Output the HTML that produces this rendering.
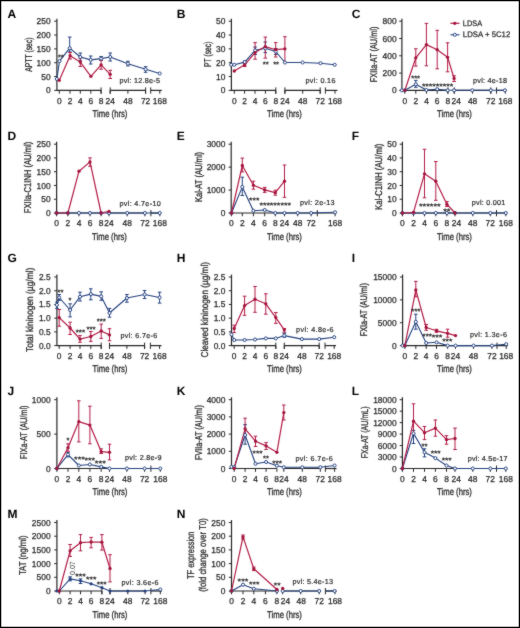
<!DOCTYPE html>
<html><head><meta charset="utf-8"><title>Figure</title>
<style>
html,body{margin:0;padding:0;background:#fff;}
body{width:520px;height:628px;overflow:hidden;}
svg{display:block;font-family:"Liberation Sans", sans-serif;}
text{stroke:#2a2a2a;stroke-width:0.25px;}
</style></head>
<body>
<div style="will-change:transform;width:520px;height:628px;">
<svg width="520" height="628" viewBox="0 0 520 628" fill="#2a2a2a" text-rendering="geometricPrecision">
<defs><filter id="soft" filterUnits="userSpaceOnUse" x="0" y="0" width="520" height="628" color-interpolation-filters="sRGB"><feConvolveMatrix order="3" kernelMatrix="1 2 1 2 24 2 1 2 1" divisor="36" edgeMode="duplicate"/></filter></defs>
<g filter="url(#soft)">
<rect x="0" y="0" width="520" height="628" fill="#fff"/>
<g id="pA">
<text x="7.5" y="17.75" font-size="12" fill="#000" font-weight="bold" style="stroke:none">A</text>
<line x1="54.2" y1="90.4" x2="56.9" y2="90.4" stroke="#262626" stroke-width="1"/>
<text x="50.6" y="93.45" font-size="8.6" text-anchor="end" textLength="4.69" lengthAdjust="spacingAndGlyphs">0</text>
<line x1="54.2" y1="76.56" x2="56.9" y2="76.56" stroke="#262626" stroke-width="1"/>
<text x="50.6" y="79.61" font-size="8.6" text-anchor="end" textLength="9.37" lengthAdjust="spacingAndGlyphs">50</text>
<line x1="54.2" y1="62.72" x2="56.9" y2="62.72" stroke="#262626" stroke-width="1"/>
<text x="50.6" y="65.77" font-size="8.6" text-anchor="end" textLength="14.06" lengthAdjust="spacingAndGlyphs">100</text>
<line x1="54.2" y1="48.88" x2="56.9" y2="48.88" stroke="#262626" stroke-width="1"/>
<text x="50.6" y="51.93" font-size="8.6" text-anchor="end" textLength="14.06" lengthAdjust="spacingAndGlyphs">150</text>
<line x1="54.2" y1="35.04" x2="56.9" y2="35.04" stroke="#262626" stroke-width="1"/>
<text x="50.6" y="38.09" font-size="8.6" text-anchor="end" textLength="14.06" lengthAdjust="spacingAndGlyphs">200</text>
<line x1="54.2" y1="21.2" x2="56.9" y2="21.2" stroke="#262626" stroke-width="1"/>
<text x="50.6" y="24.25" font-size="8.6" text-anchor="end" textLength="14.06" lengthAdjust="spacingAndGlyphs">250</text>
<line x1="56.9" y1="18.8" x2="56.9" y2="90.9" stroke="#262626" stroke-width="1.2"/>
<line x1="56.9" y1="90.4" x2="101.1" y2="90.4" stroke="#262626" stroke-width="1.2"/>
<line x1="110.2" y1="90.4" x2="145.6" y2="90.4" stroke="#262626" stroke-width="1.2"/>
<line x1="150.7" y1="90.4" x2="161.8" y2="90.4" stroke="#262626" stroke-width="1.2"/>
<line x1="101.1" y1="87.4" x2="101.1" y2="93.7" stroke="#262626" stroke-width="1"/>
<line x1="110.2" y1="87.4" x2="110.2" y2="93.7" stroke="#262626" stroke-width="1"/>
<line x1="145.6" y1="87.4" x2="145.6" y2="93.7" stroke="#262626" stroke-width="1"/>
<line x1="150.7" y1="87.4" x2="150.7" y2="93.7" stroke="#262626" stroke-width="1"/>
<line x1="59.3" y1="90.4" x2="59.3" y2="93.7" stroke="#262626" stroke-width="1"/>
<line x1="70" y1="90.4" x2="70" y2="93.7" stroke="#262626" stroke-width="1"/>
<line x1="80.3" y1="90.4" x2="80.3" y2="93.7" stroke="#262626" stroke-width="1"/>
<line x1="90.8" y1="90.4" x2="90.8" y2="93.7" stroke="#262626" stroke-width="1"/>
<line x1="101.1" y1="90.4" x2="101.1" y2="93.7" stroke="#262626" stroke-width="1"/>
<line x1="110.2" y1="90.4" x2="110.2" y2="93.7" stroke="#262626" stroke-width="1"/>
<line x1="127.9" y1="90.4" x2="127.9" y2="93.7" stroke="#262626" stroke-width="1"/>
<line x1="145.6" y1="90.4" x2="145.6" y2="93.7" stroke="#262626" stroke-width="1"/>
<line x1="159.8" y1="90.4" x2="159.8" y2="93.7" stroke="#262626" stroke-width="1"/>
<text x="59.3" y="103.8" font-size="8.6" text-anchor="middle" textLength="4.69" lengthAdjust="spacingAndGlyphs">0</text>
<text x="70" y="103.8" font-size="8.6" text-anchor="middle" textLength="4.69" lengthAdjust="spacingAndGlyphs">2</text>
<text x="80.3" y="103.8" font-size="8.6" text-anchor="middle" textLength="4.69" lengthAdjust="spacingAndGlyphs">4</text>
<text x="90.8" y="103.8" font-size="8.6" text-anchor="middle" textLength="4.69" lengthAdjust="spacingAndGlyphs">6</text>
<text x="101.1" y="103.8" font-size="8.6" text-anchor="middle" textLength="4.69" lengthAdjust="spacingAndGlyphs">8</text>
<text x="110.2" y="103.8" font-size="8.6" text-anchor="middle" textLength="9.37" lengthAdjust="spacingAndGlyphs">24</text>
<text x="127.9" y="103.8" font-size="8.6" text-anchor="middle" textLength="9.37" lengthAdjust="spacingAndGlyphs">48</text>
<text x="145.6" y="103.8" font-size="8.6" text-anchor="middle" textLength="9.37" lengthAdjust="spacingAndGlyphs">72</text>
<text x="159.8" y="103.8" font-size="8.6" text-anchor="middle" textLength="14.06" lengthAdjust="spacingAndGlyphs">168</text>
<text x="110" y="117.2" font-size="9.8" text-anchor="middle" textLength="34.8" lengthAdjust="spacingAndGlyphs" style="stroke-width:0.3px">Time (hrs)</text>
<text x="31.52" y="54.6" font-size="9.9" text-anchor="middle" textLength="34.4" lengthAdjust="spacingAndGlyphs" transform="rotate(-90 31.52 54.6)" style="stroke-width:0.3px">APTT (sec)</text>
<line x1="69.7" y1="37.1" x2="69.7" y2="52" stroke="#24417f" stroke-width="1"/>
<line x1="67.9" y1="37.1" x2="71.5" y2="37.1" stroke="#24417f" stroke-width="1"/>
<line x1="67.9" y1="52" x2="71.5" y2="52" stroke="#24417f" stroke-width="1"/>
<line x1="80.3" y1="53" x2="80.3" y2="60.8" stroke="#24417f" stroke-width="1"/>
<line x1="78.5" y1="53" x2="82.1" y2="53" stroke="#24417f" stroke-width="1"/>
<line x1="78.5" y1="60.8" x2="82.1" y2="60.8" stroke="#24417f" stroke-width="1"/>
<line x1="90.7" y1="56" x2="90.7" y2="64" stroke="#24417f" stroke-width="1"/>
<line x1="88.9" y1="56" x2="92.5" y2="56" stroke="#24417f" stroke-width="1"/>
<line x1="88.9" y1="64" x2="92.5" y2="64" stroke="#24417f" stroke-width="1"/>
<line x1="101.1" y1="56.5" x2="101.1" y2="60.5" stroke="#24417f" stroke-width="1"/>
<line x1="99.3" y1="56.5" x2="102.9" y2="56.5" stroke="#24417f" stroke-width="1"/>
<line x1="99.3" y1="60.5" x2="102.9" y2="60.5" stroke="#24417f" stroke-width="1"/>
<line x1="110.2" y1="53" x2="110.2" y2="61" stroke="#24417f" stroke-width="1"/>
<line x1="108.4" y1="53" x2="112" y2="53" stroke="#24417f" stroke-width="1"/>
<line x1="108.4" y1="61" x2="112" y2="61" stroke="#24417f" stroke-width="1"/>
<line x1="127.9" y1="61.3" x2="127.9" y2="65.9" stroke="#24417f" stroke-width="1"/>
<line x1="126.1" y1="61.3" x2="129.7" y2="61.3" stroke="#24417f" stroke-width="1"/>
<line x1="126.1" y1="65.9" x2="129.7" y2="65.9" stroke="#24417f" stroke-width="1"/>
<line x1="145.6" y1="66.7" x2="145.6" y2="72.3" stroke="#24417f" stroke-width="1"/>
<line x1="143.8" y1="66.7" x2="147.4" y2="66.7" stroke="#24417f" stroke-width="1"/>
<line x1="143.8" y1="72.3" x2="147.4" y2="72.3" stroke="#24417f" stroke-width="1"/>
<line x1="70.1" y1="52.5" x2="70.1" y2="59" stroke="#b31c47" stroke-width="1"/>
<line x1="68.3" y1="52.5" x2="71.9" y2="52.5" stroke="#b31c47" stroke-width="1"/>
<line x1="68.3" y1="59" x2="71.9" y2="59" stroke="#b31c47" stroke-width="1"/>
<line x1="80.3" y1="58.1" x2="80.3" y2="66.5" stroke="#b31c47" stroke-width="1"/>
<line x1="78.5" y1="58.1" x2="82.1" y2="58.1" stroke="#b31c47" stroke-width="1"/>
<line x1="78.5" y1="66.5" x2="82.1" y2="66.5" stroke="#b31c47" stroke-width="1"/>
<line x1="101.1" y1="60.3" x2="101.1" y2="69.2" stroke="#b31c47" stroke-width="1"/>
<line x1="99.3" y1="60.3" x2="102.9" y2="60.3" stroke="#b31c47" stroke-width="1"/>
<line x1="99.3" y1="69.2" x2="102.9" y2="69.2" stroke="#b31c47" stroke-width="1"/>
<line x1="110.2" y1="70.3" x2="110.2" y2="78.5" stroke="#b31c47" stroke-width="1"/>
<line x1="108.4" y1="70.3" x2="112" y2="70.3" stroke="#b31c47" stroke-width="1"/>
<line x1="108.4" y1="78.5" x2="112" y2="78.5" stroke="#b31c47" stroke-width="1"/>
<polyline points="56.8,79 59.5,61.1 69.7,48.2 80.3,57 90.7,59.9 101.1,58.6 110.2,57 127.9,63.7 145.6,69.3 159.7,73.5" fill="none" stroke="#24417f" stroke-width="1.1" stroke-linejoin="round"/>
<polyline points="59.3,80.3 70.1,55.7 80.3,62.1 90.9,76.3 101.1,64.8 110.2,74.3" fill="none" stroke="#b31c47" stroke-width="1.2" stroke-linejoin="round"/>
<circle cx="56.8" cy="79" r="1.55" fill="#fff" stroke="#24417f" stroke-width="0.95"/>
<circle cx="59.5" cy="61.1" r="1.55" fill="#fff" stroke="#24417f" stroke-width="0.95"/>
<circle cx="69.7" cy="48.2" r="1.55" fill="#fff" stroke="#24417f" stroke-width="0.95"/>
<circle cx="80.3" cy="57" r="1.55" fill="#fff" stroke="#24417f" stroke-width="0.95"/>
<circle cx="90.7" cy="59.9" r="1.55" fill="#fff" stroke="#24417f" stroke-width="0.95"/>
<circle cx="101.1" cy="58.6" r="1.55" fill="#fff" stroke="#24417f" stroke-width="0.95"/>
<circle cx="110.2" cy="57" r="1.55" fill="#fff" stroke="#24417f" stroke-width="0.95"/>
<circle cx="127.9" cy="63.7" r="1.55" fill="#fff" stroke="#24417f" stroke-width="0.95"/>
<circle cx="145.6" cy="69.3" r="1.55" fill="#fff" stroke="#24417f" stroke-width="0.95"/>
<circle cx="159.7" cy="73.5" r="1.55" fill="#fff" stroke="#24417f" stroke-width="0.95"/>
<circle cx="59.3" cy="80.3" r="1.65" fill="#a3123a"/>
<circle cx="70.1" cy="55.7" r="1.65" fill="#a3123a"/>
<circle cx="80.3" cy="62.1" r="1.65" fill="#a3123a"/>
<circle cx="90.9" cy="76.3" r="1.65" fill="#a3123a"/>
<circle cx="101.1" cy="64.8" r="1.65" fill="#a3123a"/>
<circle cx="110.2" cy="74.3" r="1.65" fill="#a3123a"/>
<text x="60.75" y="60.23" font-size="7.8" text-anchor="middle" textLength="5.61" lengthAdjust="spacingAndGlyphs">**</text>
<text x="119.4" y="82.9" font-size="7.2" style="stroke-width:0.2px" textLength="40.5" lengthAdjust="spacing">pvl: 12.8e-5</text>
</g>
<g id="pB">
<text x="176.8" y="17.75" font-size="12" fill="#000" font-weight="bold" style="stroke:none">B</text>
<line x1="228.7" y1="90.4" x2="231.4" y2="90.4" stroke="#262626" stroke-width="1"/>
<text x="225.4" y="93.45" font-size="8.6" text-anchor="end" textLength="4.69" lengthAdjust="spacingAndGlyphs">0</text>
<line x1="228.7" y1="76.56" x2="231.4" y2="76.56" stroke="#262626" stroke-width="1"/>
<text x="225.4" y="79.61" font-size="8.6" text-anchor="end" textLength="9.37" lengthAdjust="spacingAndGlyphs">10</text>
<line x1="228.7" y1="62.72" x2="231.4" y2="62.72" stroke="#262626" stroke-width="1"/>
<text x="225.4" y="65.77" font-size="8.6" text-anchor="end" textLength="9.37" lengthAdjust="spacingAndGlyphs">20</text>
<line x1="228.7" y1="48.88" x2="231.4" y2="48.88" stroke="#262626" stroke-width="1"/>
<text x="225.4" y="51.93" font-size="8.6" text-anchor="end" textLength="9.37" lengthAdjust="spacingAndGlyphs">30</text>
<line x1="228.7" y1="35.04" x2="231.4" y2="35.04" stroke="#262626" stroke-width="1"/>
<text x="225.4" y="38.09" font-size="8.6" text-anchor="end" textLength="9.37" lengthAdjust="spacingAndGlyphs">40</text>
<line x1="228.7" y1="21.2" x2="231.4" y2="21.2" stroke="#262626" stroke-width="1"/>
<text x="225.4" y="24.25" font-size="8.6" text-anchor="end" textLength="9.37" lengthAdjust="spacingAndGlyphs">50</text>
<line x1="231.4" y1="18.8" x2="231.4" y2="90.9" stroke="#262626" stroke-width="1.2"/>
<line x1="231.4" y1="90.4" x2="275.8" y2="90.4" stroke="#262626" stroke-width="1.2"/>
<line x1="284.9" y1="90.4" x2="320.2" y2="90.4" stroke="#262626" stroke-width="1.2"/>
<line x1="325.4" y1="90.4" x2="337.4" y2="90.4" stroke="#262626" stroke-width="1.2"/>
<line x1="275.8" y1="87.4" x2="275.8" y2="93.7" stroke="#262626" stroke-width="1"/>
<line x1="284.9" y1="87.4" x2="284.9" y2="93.7" stroke="#262626" stroke-width="1"/>
<line x1="320.2" y1="87.4" x2="320.2" y2="93.7" stroke="#262626" stroke-width="1"/>
<line x1="325.4" y1="87.4" x2="325.4" y2="93.7" stroke="#262626" stroke-width="1"/>
<line x1="234.3" y1="90.4" x2="234.3" y2="93.7" stroke="#262626" stroke-width="1"/>
<line x1="244.6" y1="90.4" x2="244.6" y2="93.7" stroke="#262626" stroke-width="1"/>
<line x1="255" y1="90.4" x2="255" y2="93.7" stroke="#262626" stroke-width="1"/>
<line x1="265.4" y1="90.4" x2="265.4" y2="93.7" stroke="#262626" stroke-width="1"/>
<line x1="275.8" y1="90.4" x2="275.8" y2="93.7" stroke="#262626" stroke-width="1"/>
<line x1="284.9" y1="90.4" x2="284.9" y2="93.7" stroke="#262626" stroke-width="1"/>
<line x1="302.7" y1="90.4" x2="302.7" y2="93.7" stroke="#262626" stroke-width="1"/>
<line x1="320.2" y1="90.4" x2="320.2" y2="93.7" stroke="#262626" stroke-width="1"/>
<line x1="335" y1="90.4" x2="335" y2="93.7" stroke="#262626" stroke-width="1"/>
<text x="234.3" y="103.8" font-size="8.6" text-anchor="middle" textLength="4.69" lengthAdjust="spacingAndGlyphs">0</text>
<text x="244.6" y="103.8" font-size="8.6" text-anchor="middle" textLength="4.69" lengthAdjust="spacingAndGlyphs">2</text>
<text x="255" y="103.8" font-size="8.6" text-anchor="middle" textLength="4.69" lengthAdjust="spacingAndGlyphs">4</text>
<text x="265.4" y="103.8" font-size="8.6" text-anchor="middle" textLength="4.69" lengthAdjust="spacingAndGlyphs">6</text>
<text x="275.8" y="103.8" font-size="8.6" text-anchor="middle" textLength="4.69" lengthAdjust="spacingAndGlyphs">8</text>
<text x="284.9" y="103.8" font-size="8.6" text-anchor="middle" textLength="9.37" lengthAdjust="spacingAndGlyphs">24</text>
<text x="302.7" y="103.8" font-size="8.6" text-anchor="middle" textLength="9.37" lengthAdjust="spacingAndGlyphs">48</text>
<text x="320.2" y="103.8" font-size="8.6" text-anchor="middle" textLength="9.37" lengthAdjust="spacingAndGlyphs">72</text>
<text x="335" y="103.8" font-size="8.6" text-anchor="middle" textLength="14.06" lengthAdjust="spacingAndGlyphs">168</text>
<text x="284.5" y="117.2" font-size="9.8" text-anchor="middle" textLength="34.8" lengthAdjust="spacingAndGlyphs" style="stroke-width:0.3px">Time (hrs)</text>
<text x="210.72" y="54.3" font-size="9.9" text-anchor="middle" textLength="25.4" lengthAdjust="spacingAndGlyphs" transform="rotate(-90 210.72 54.3)" style="stroke-width:0.3px">PT (sec)</text>
<line x1="244.7" y1="61" x2="244.7" y2="63.5" stroke="#24417f" stroke-width="1"/>
<line x1="242.9" y1="61" x2="246.5" y2="61" stroke="#24417f" stroke-width="1"/>
<line x1="242.9" y1="63.5" x2="246.5" y2="63.5" stroke="#24417f" stroke-width="1"/>
<line x1="255.1" y1="47" x2="255.1" y2="54.4" stroke="#24417f" stroke-width="1"/>
<line x1="253.3" y1="47" x2="256.9" y2="47" stroke="#24417f" stroke-width="1"/>
<line x1="253.3" y1="54.4" x2="256.9" y2="54.4" stroke="#24417f" stroke-width="1"/>
<line x1="265.3" y1="42" x2="265.3" y2="52.6" stroke="#24417f" stroke-width="1"/>
<line x1="263.5" y1="42" x2="267.1" y2="42" stroke="#24417f" stroke-width="1"/>
<line x1="263.5" y1="52.6" x2="267.1" y2="52.6" stroke="#24417f" stroke-width="1"/>
<line x1="275.7" y1="48.5" x2="275.7" y2="54.5" stroke="#24417f" stroke-width="1"/>
<line x1="273.9" y1="48.5" x2="277.5" y2="48.5" stroke="#24417f" stroke-width="1"/>
<line x1="273.9" y1="54.5" x2="277.5" y2="54.5" stroke="#24417f" stroke-width="1"/>
<line x1="244.7" y1="63" x2="244.7" y2="66.5" stroke="#b31c47" stroke-width="1"/>
<line x1="242.9" y1="63" x2="246.5" y2="63" stroke="#b31c47" stroke-width="1"/>
<line x1="242.9" y1="66.5" x2="246.5" y2="66.5" stroke="#b31c47" stroke-width="1"/>
<line x1="255.1" y1="42.6" x2="255.1" y2="59.2" stroke="#b31c47" stroke-width="1"/>
<line x1="253.3" y1="42.6" x2="256.9" y2="42.6" stroke="#b31c47" stroke-width="1"/>
<line x1="253.3" y1="59.2" x2="256.9" y2="59.2" stroke="#b31c47" stroke-width="1"/>
<line x1="265.3" y1="37.1" x2="265.3" y2="58.1" stroke="#b31c47" stroke-width="1"/>
<line x1="263.5" y1="37.1" x2="267.1" y2="37.1" stroke="#b31c47" stroke-width="1"/>
<line x1="263.5" y1="58.1" x2="267.1" y2="58.1" stroke="#b31c47" stroke-width="1"/>
<line x1="275.7" y1="42.6" x2="275.7" y2="57" stroke="#b31c47" stroke-width="1"/>
<line x1="273.9" y1="42.6" x2="277.5" y2="42.6" stroke="#b31c47" stroke-width="1"/>
<line x1="273.9" y1="57" x2="277.5" y2="57" stroke="#b31c47" stroke-width="1"/>
<line x1="284.9" y1="36.7" x2="284.9" y2="62.5" stroke="#b31c47" stroke-width="1"/>
<line x1="283.1" y1="36.7" x2="286.7" y2="36.7" stroke="#b31c47" stroke-width="1"/>
<line x1="283.1" y1="62.5" x2="286.7" y2="62.5" stroke="#b31c47" stroke-width="1"/>
<polyline points="231.2,64.8 234.3,64.8 244.7,62.1 255.1,50.4 265.3,48.2 275.7,51.5 284.9,62.5 302.6,62.5 320.5,63.2 334.7,64.8" fill="none" stroke="#24417f" stroke-width="1.1" stroke-linejoin="round"/>
<polyline points="234.3,71 244.7,64.8 255.1,52.6 265.3,46.6 275.7,49.7 284.9,48.8" fill="none" stroke="#b31c47" stroke-width="1.2" stroke-linejoin="round"/>
<circle cx="231.2" cy="64.8" r="1.55" fill="#fff" stroke="#24417f" stroke-width="0.95"/>
<circle cx="234.3" cy="64.8" r="1.55" fill="#fff" stroke="#24417f" stroke-width="0.95"/>
<circle cx="244.7" cy="62.1" r="1.55" fill="#fff" stroke="#24417f" stroke-width="0.95"/>
<circle cx="255.1" cy="50.4" r="1.55" fill="#fff" stroke="#24417f" stroke-width="0.95"/>
<circle cx="265.3" cy="48.2" r="1.55" fill="#fff" stroke="#24417f" stroke-width="0.95"/>
<circle cx="275.7" cy="51.5" r="1.55" fill="#fff" stroke="#24417f" stroke-width="0.95"/>
<circle cx="284.9" cy="62.5" r="1.55" fill="#fff" stroke="#24417f" stroke-width="0.95"/>
<circle cx="302.6" cy="62.5" r="1.55" fill="#fff" stroke="#24417f" stroke-width="0.95"/>
<circle cx="320.5" cy="63.2" r="1.55" fill="#fff" stroke="#24417f" stroke-width="0.95"/>
<circle cx="334.7" cy="64.8" r="1.55" fill="#fff" stroke="#24417f" stroke-width="0.95"/>
<circle cx="234.3" cy="71" r="1.65" fill="#a3123a"/>
<circle cx="244.7" cy="64.8" r="1.65" fill="#a3123a"/>
<circle cx="255.1" cy="52.6" r="1.65" fill="#a3123a"/>
<circle cx="265.3" cy="46.6" r="1.65" fill="#a3123a"/>
<circle cx="275.7" cy="49.7" r="1.65" fill="#a3123a"/>
<circle cx="284.9" cy="48.8" r="1.65" fill="#a3123a"/>
<text x="265.7" y="66.73" font-size="7.8" text-anchor="middle" textLength="5.92" lengthAdjust="spacingAndGlyphs">**</text>
<text x="276.1" y="66.73" font-size="7.8" text-anchor="middle" textLength="5.92" lengthAdjust="spacingAndGlyphs">**</text>
<text x="305.5" y="82.9" font-size="7.2" style="stroke-width:0.2px" textLength="29.9" lengthAdjust="spacing">pvl: 0.16</text>
</g>
<g id="pC">
<text x="351.8" y="17.75" font-size="12" fill="#000" font-weight="bold" style="stroke:none">C</text>
<line x1="399.2" y1="90.4" x2="401.9" y2="90.4" stroke="#262626" stroke-width="1"/>
<text x="396.6" y="93.45" font-size="8.6" text-anchor="end" textLength="4.69" lengthAdjust="spacingAndGlyphs">0</text>
<line x1="399.2" y1="73.1" x2="401.9" y2="73.1" stroke="#262626" stroke-width="1"/>
<text x="396.6" y="76.15" font-size="8.6" text-anchor="end" textLength="14.06" lengthAdjust="spacingAndGlyphs">200</text>
<line x1="399.2" y1="55.8" x2="401.9" y2="55.8" stroke="#262626" stroke-width="1"/>
<text x="396.6" y="58.85" font-size="8.6" text-anchor="end" textLength="14.06" lengthAdjust="spacingAndGlyphs">400</text>
<line x1="399.2" y1="38.5" x2="401.9" y2="38.5" stroke="#262626" stroke-width="1"/>
<text x="396.6" y="41.55" font-size="8.6" text-anchor="end" textLength="14.06" lengthAdjust="spacingAndGlyphs">600</text>
<line x1="399.2" y1="21.2" x2="401.9" y2="21.2" stroke="#262626" stroke-width="1"/>
<text x="396.6" y="24.25" font-size="8.6" text-anchor="end" textLength="14.06" lengthAdjust="spacingAndGlyphs">800</text>
<line x1="401.9" y1="18.8" x2="401.9" y2="90.9" stroke="#262626" stroke-width="1.2"/>
<line x1="401.9" y1="90.4" x2="447.9" y2="90.4" stroke="#262626" stroke-width="1.2"/>
<line x1="454.3" y1="90.4" x2="490.8" y2="90.4" stroke="#262626" stroke-width="1.2"/>
<line x1="496.5" y1="90.4" x2="507" y2="90.4" stroke="#262626" stroke-width="1.2"/>
<line x1="447.9" y1="87.4" x2="447.9" y2="93.7" stroke="#262626" stroke-width="1"/>
<line x1="454.3" y1="87.4" x2="454.3" y2="93.7" stroke="#262626" stroke-width="1"/>
<line x1="490.8" y1="87.4" x2="490.8" y2="93.7" stroke="#262626" stroke-width="1"/>
<line x1="496.5" y1="87.4" x2="496.5" y2="93.7" stroke="#262626" stroke-width="1"/>
<line x1="404.8" y1="90.4" x2="404.8" y2="93.7" stroke="#262626" stroke-width="1"/>
<line x1="415.8" y1="90.4" x2="415.8" y2="93.7" stroke="#262626" stroke-width="1"/>
<line x1="426.5" y1="90.4" x2="426.5" y2="93.7" stroke="#262626" stroke-width="1"/>
<line x1="437.2" y1="90.4" x2="437.2" y2="93.7" stroke="#262626" stroke-width="1"/>
<line x1="447.9" y1="90.4" x2="447.9" y2="93.7" stroke="#262626" stroke-width="1"/>
<line x1="454.3" y1="90.4" x2="454.3" y2="93.7" stroke="#262626" stroke-width="1"/>
<line x1="472.6" y1="90.4" x2="472.6" y2="93.7" stroke="#262626" stroke-width="1"/>
<line x1="490.8" y1="90.4" x2="490.8" y2="93.7" stroke="#262626" stroke-width="1"/>
<line x1="505.3" y1="90.4" x2="505.3" y2="93.7" stroke="#262626" stroke-width="1"/>
<text x="404.8" y="103.8" font-size="8.6" text-anchor="middle" textLength="4.69" lengthAdjust="spacingAndGlyphs">0</text>
<text x="415.8" y="103.8" font-size="8.6" text-anchor="middle" textLength="4.69" lengthAdjust="spacingAndGlyphs">2</text>
<text x="426.5" y="103.8" font-size="8.6" text-anchor="middle" textLength="4.69" lengthAdjust="spacingAndGlyphs">4</text>
<text x="437.2" y="103.8" font-size="8.6" text-anchor="middle" textLength="4.69" lengthAdjust="spacingAndGlyphs">6</text>
<text x="447.9" y="103.8" font-size="8.6" text-anchor="middle" textLength="4.69" lengthAdjust="spacingAndGlyphs">8</text>
<text x="456.3" y="103.8" font-size="8.6" text-anchor="middle" textLength="9.37" lengthAdjust="spacingAndGlyphs">24</text>
<text x="472.6" y="103.8" font-size="8.6" text-anchor="middle" textLength="9.37" lengthAdjust="spacingAndGlyphs">48</text>
<text x="490.8" y="103.8" font-size="8.6" text-anchor="middle" textLength="9.37" lengthAdjust="spacingAndGlyphs">72</text>
<text x="505.3" y="103.8" font-size="8.6" text-anchor="middle" textLength="14.06" lengthAdjust="spacingAndGlyphs">168</text>
<text x="454.5" y="117.2" font-size="9.8" text-anchor="middle" textLength="34.8" lengthAdjust="spacingAndGlyphs" style="stroke-width:0.3px">Time (hrs)</text>
<text x="376.87" y="54.4" font-size="9.9" text-anchor="middle" textLength="55.5" lengthAdjust="spacingAndGlyphs" transform="rotate(-90 376.87 54.4)" style="stroke-width:0.3px">FXIIa-AT (AU/ml)</text>
<line x1="415.8" y1="80.4" x2="415.8" y2="87.3" stroke="#24417f" stroke-width="1"/>
<line x1="414" y1="80.4" x2="417.6" y2="80.4" stroke="#24417f" stroke-width="1"/>
<line x1="414" y1="87.3" x2="417.6" y2="87.3" stroke="#24417f" stroke-width="1"/>
<line x1="415.8" y1="48.8" x2="415.8" y2="66.1" stroke="#b31c47" stroke-width="1"/>
<line x1="414" y1="48.8" x2="417.6" y2="48.8" stroke="#b31c47" stroke-width="1"/>
<line x1="414" y1="66.1" x2="417.6" y2="66.1" stroke="#b31c47" stroke-width="1"/>
<line x1="426.4" y1="23.4" x2="426.4" y2="65.8" stroke="#b31c47" stroke-width="1"/>
<line x1="424.6" y1="23.4" x2="428.2" y2="23.4" stroke="#b31c47" stroke-width="1"/>
<line x1="424.6" y1="65.8" x2="428.2" y2="65.8" stroke="#b31c47" stroke-width="1"/>
<line x1="437.2" y1="30.3" x2="437.2" y2="68.8" stroke="#b31c47" stroke-width="1"/>
<line x1="435.4" y1="30.3" x2="439" y2="30.3" stroke="#b31c47" stroke-width="1"/>
<line x1="435.4" y1="68.8" x2="439" y2="68.8" stroke="#b31c47" stroke-width="1"/>
<line x1="447.6" y1="42.8" x2="447.6" y2="71.8" stroke="#b31c47" stroke-width="1"/>
<line x1="445.8" y1="42.8" x2="449.4" y2="42.8" stroke="#b31c47" stroke-width="1"/>
<line x1="445.8" y1="71.8" x2="449.4" y2="71.8" stroke="#b31c47" stroke-width="1"/>
<line x1="454.1" y1="75.8" x2="454.1" y2="81.5" stroke="#b31c47" stroke-width="1"/>
<line x1="452.3" y1="75.8" x2="455.9" y2="75.8" stroke="#b31c47" stroke-width="1"/>
<line x1="452.3" y1="81.5" x2="455.9" y2="81.5" stroke="#b31c47" stroke-width="1"/>
<polyline points="401.9,90.3 404.9,90.3 415.8,84.3 426.4,90 437.2,89.2 447.6,90.3 454.1,90.3 472.3,90.3 490.8,90.3 504.9,90.3" fill="none" stroke="#24417f" stroke-width="1.1" stroke-linejoin="round"/>
<polyline points="404.9,90.3 415.8,57.8 426.4,44.6 437.2,49.7 447.6,57.3 454.1,78.5" fill="none" stroke="#b31c47" stroke-width="1.2" stroke-linejoin="round"/>
<circle cx="401.9" cy="90.3" r="1.55" fill="#fff" stroke="#24417f" stroke-width="0.95"/>
<circle cx="404.9" cy="90.3" r="1.55" fill="#fff" stroke="#24417f" stroke-width="0.95"/>
<circle cx="415.8" cy="84.3" r="1.55" fill="#fff" stroke="#24417f" stroke-width="0.95"/>
<circle cx="426.4" cy="90" r="1.55" fill="#fff" stroke="#24417f" stroke-width="0.95"/>
<circle cx="437.2" cy="89.2" r="1.55" fill="#fff" stroke="#24417f" stroke-width="0.95"/>
<circle cx="447.6" cy="90.3" r="1.55" fill="#fff" stroke="#24417f" stroke-width="0.95"/>
<circle cx="454.1" cy="90.3" r="1.55" fill="#fff" stroke="#24417f" stroke-width="0.95"/>
<circle cx="472.3" cy="90.3" r="1.55" fill="#fff" stroke="#24417f" stroke-width="0.95"/>
<circle cx="490.8" cy="90.3" r="1.55" fill="#fff" stroke="#24417f" stroke-width="0.95"/>
<circle cx="504.9" cy="90.3" r="1.55" fill="#fff" stroke="#24417f" stroke-width="0.95"/>
<circle cx="404.9" cy="90.3" r="1.65" fill="#a3123a"/>
<circle cx="415.8" cy="57.8" r="1.65" fill="#a3123a"/>
<circle cx="426.4" cy="44.6" r="1.65" fill="#a3123a"/>
<circle cx="437.2" cy="49.7" r="1.65" fill="#a3123a"/>
<circle cx="447.6" cy="57.3" r="1.65" fill="#a3123a"/>
<circle cx="454.1" cy="78.5" r="1.65" fill="#a3123a"/>
<text x="415.65" y="80.73" font-size="7.8" text-anchor="middle" textLength="8.67" lengthAdjust="spacingAndGlyphs">***</text>
<text x="437.55" y="88.73" font-size="7.8" text-anchor="middle" textLength="31.31" lengthAdjust="spacingAndGlyphs">*********</text>
<text x="473" y="83.1" font-size="7.2" style="stroke-width:0.2px" textLength="34" lengthAdjust="spacing">pvl: 4e-18</text>
<line x1="450.4" y1="23.3" x2="459.5" y2="23.3" stroke="#b31c47" stroke-width="1.2"/>
<circle cx="454.8" cy="23.3" r="1.65" fill="#a3123a"/>
<text x="462.8" y="26.1" font-size="8" textLength="19.3" lengthAdjust="spacingAndGlyphs">LDSA</text>
<line x1="450.4" y1="34.8" x2="459.5" y2="34.8" stroke="#24417f" stroke-width="1.1"/>
<circle cx="454.8" cy="34.8" r="1.55" fill="#fff" stroke="#24417f" stroke-width="0.95"/>
<text x="462.8" y="36.9" font-size="8" textLength="47.5" lengthAdjust="spacingAndGlyphs">LDSA + 5C12</text>
</g>
<g id="pD">
<text x="7.5" y="139.85" font-size="12" fill="#000" font-weight="bold" style="stroke:none">D</text>
<line x1="53.9" y1="213" x2="56.6" y2="213" stroke="#262626" stroke-width="1"/>
<text x="50.6" y="216.05" font-size="8.6" text-anchor="end" textLength="4.69" lengthAdjust="spacingAndGlyphs">0</text>
<line x1="53.9" y1="199.24" x2="56.6" y2="199.24" stroke="#262626" stroke-width="1"/>
<text x="50.6" y="202.29" font-size="8.6" text-anchor="end" textLength="9.37" lengthAdjust="spacingAndGlyphs">50</text>
<line x1="53.9" y1="185.48" x2="56.6" y2="185.48" stroke="#262626" stroke-width="1"/>
<text x="50.6" y="188.53" font-size="8.6" text-anchor="end" textLength="14.06" lengthAdjust="spacingAndGlyphs">100</text>
<line x1="53.9" y1="171.72" x2="56.6" y2="171.72" stroke="#262626" stroke-width="1"/>
<text x="50.6" y="174.77" font-size="8.6" text-anchor="end" textLength="14.06" lengthAdjust="spacingAndGlyphs">150</text>
<line x1="53.9" y1="157.96" x2="56.6" y2="157.96" stroke="#262626" stroke-width="1"/>
<text x="50.6" y="161.01" font-size="8.6" text-anchor="end" textLength="14.06" lengthAdjust="spacingAndGlyphs">200</text>
<line x1="53.9" y1="144.2" x2="56.6" y2="144.2" stroke="#262626" stroke-width="1"/>
<text x="50.6" y="147.25" font-size="8.6" text-anchor="end" textLength="14.06" lengthAdjust="spacingAndGlyphs">250</text>
<line x1="56.6" y1="141.8" x2="56.6" y2="213.5" stroke="#262626" stroke-width="1.2"/>
<line x1="56.6" y1="213" x2="101.1" y2="213" stroke="#262626" stroke-width="1.2"/>
<line x1="109" y1="213" x2="144.9" y2="213" stroke="#262626" stroke-width="1.2"/>
<line x1="150.9" y1="213" x2="161" y2="213" stroke="#262626" stroke-width="1.2"/>
<line x1="150.9" y1="210" x2="150.9" y2="216.3" stroke="#262626" stroke-width="1"/>
<line x1="56.6" y1="213" x2="56.6" y2="216.3" stroke="#262626" stroke-width="1"/>
<line x1="67.9" y1="213" x2="67.9" y2="216.3" stroke="#262626" stroke-width="1"/>
<line x1="79" y1="213" x2="79" y2="216.3" stroke="#262626" stroke-width="1"/>
<line x1="90" y1="213" x2="90" y2="216.3" stroke="#262626" stroke-width="1"/>
<line x1="101.1" y1="213" x2="101.1" y2="216.3" stroke="#262626" stroke-width="1"/>
<line x1="109" y1="213" x2="109" y2="216.3" stroke="#262626" stroke-width="1"/>
<line x1="127.2" y1="213" x2="127.2" y2="216.3" stroke="#262626" stroke-width="1"/>
<line x1="144.9" y1="213" x2="144.9" y2="216.3" stroke="#262626" stroke-width="1"/>
<line x1="159.9" y1="213" x2="159.9" y2="216.3" stroke="#262626" stroke-width="1"/>
<text x="56.6" y="225.95" font-size="8.6" text-anchor="middle" textLength="4.69" lengthAdjust="spacingAndGlyphs">0</text>
<text x="67.9" y="225.95" font-size="8.6" text-anchor="middle" textLength="4.69" lengthAdjust="spacingAndGlyphs">2</text>
<text x="79" y="225.95" font-size="8.6" text-anchor="middle" textLength="4.69" lengthAdjust="spacingAndGlyphs">4</text>
<text x="90" y="225.95" font-size="8.6" text-anchor="middle" textLength="4.69" lengthAdjust="spacingAndGlyphs">6</text>
<text x="101.1" y="225.95" font-size="8.6" text-anchor="middle" textLength="4.69" lengthAdjust="spacingAndGlyphs">8</text>
<text x="109" y="225.95" font-size="8.6" text-anchor="middle" textLength="9.37" lengthAdjust="spacingAndGlyphs">24</text>
<text x="127.2" y="225.95" font-size="8.6" text-anchor="middle" textLength="9.37" lengthAdjust="spacingAndGlyphs">48</text>
<text x="144.9" y="225.95" font-size="8.6" text-anchor="middle" textLength="9.37" lengthAdjust="spacingAndGlyphs">72</text>
<text x="159.9" y="225.95" font-size="8.6" text-anchor="middle" textLength="14.06" lengthAdjust="spacingAndGlyphs">168</text>
<text x="109.5" y="239.75" font-size="9.8" text-anchor="middle" textLength="34.8" lengthAdjust="spacingAndGlyphs" style="stroke-width:0.3px">Time (hrs)</text>
<text x="31.17" y="177.5" font-size="9.9" text-anchor="middle" textLength="71.4" lengthAdjust="spacingAndGlyphs" transform="rotate(-90 31.17 177.5)" style="stroke-width:0.3px">FXIIa-C1INH (AU/ml)</text>
<line x1="90" y1="157.9" x2="90" y2="166.3" stroke="#b31c47" stroke-width="1"/>
<line x1="88.2" y1="157.9" x2="91.8" y2="157.9" stroke="#b31c47" stroke-width="1"/>
<line x1="88.2" y1="166.3" x2="91.8" y2="166.3" stroke="#b31c47" stroke-width="1"/>
<polyline points="56.6,213 67.9,213 79,213 90,213 101.1,213 109,213 127.2,213 144.9,213 159.7,213" fill="none" stroke="#24417f" stroke-width="1.1" stroke-linejoin="round"/>
<polyline points="56.6,213 67.9,213 79,171.2 90,161.9 101.1,213 109,211.4" fill="none" stroke="#b31c47" stroke-width="1.2" stroke-linejoin="round"/>
<circle cx="56.6" cy="213" r="1.55" fill="#fff" stroke="#24417f" stroke-width="0.95"/>
<circle cx="67.9" cy="213" r="1.55" fill="#fff" stroke="#24417f" stroke-width="0.95"/>
<circle cx="79" cy="213" r="1.55" fill="#fff" stroke="#24417f" stroke-width="0.95"/>
<circle cx="90" cy="213" r="1.55" fill="#fff" stroke="#24417f" stroke-width="0.95"/>
<circle cx="101.1" cy="213" r="1.55" fill="#fff" stroke="#24417f" stroke-width="0.95"/>
<circle cx="109" cy="213" r="1.55" fill="#fff" stroke="#24417f" stroke-width="0.95"/>
<circle cx="127.2" cy="213" r="1.55" fill="#fff" stroke="#24417f" stroke-width="0.95"/>
<circle cx="144.9" cy="213" r="1.55" fill="#fff" stroke="#24417f" stroke-width="0.95"/>
<circle cx="159.7" cy="213" r="1.55" fill="#fff" stroke="#24417f" stroke-width="0.95"/>
<circle cx="56.6" cy="213" r="1.65" fill="#a3123a"/>
<circle cx="67.9" cy="213" r="1.65" fill="#a3123a"/>
<circle cx="79" cy="171.2" r="1.65" fill="#a3123a"/>
<circle cx="90" cy="161.9" r="1.65" fill="#a3123a"/>
<circle cx="101.1" cy="213" r="1.65" fill="#a3123a"/>
<circle cx="109" cy="211.4" r="1.65" fill="#a3123a"/>
<text x="119.4" y="205.5" font-size="7.2" style="stroke-width:0.2px" textLength="41.4" lengthAdjust="spacing">pvl: 4.7e-10</text>
</g>
<g id="pE">
<text x="176.8" y="139.85" font-size="12" fill="#000" font-weight="bold" style="stroke:none">E</text>
<line x1="228.5" y1="213" x2="231.2" y2="213" stroke="#262626" stroke-width="1"/>
<text x="225.4" y="216.05" font-size="8.6" text-anchor="end" textLength="4.69" lengthAdjust="spacingAndGlyphs">0</text>
<line x1="228.5" y1="190.07" x2="231.2" y2="190.07" stroke="#262626" stroke-width="1"/>
<text x="225.4" y="193.12" font-size="8.6" text-anchor="end" textLength="18.75" lengthAdjust="spacingAndGlyphs">1000</text>
<line x1="228.5" y1="167.13" x2="231.2" y2="167.13" stroke="#262626" stroke-width="1"/>
<text x="225.4" y="170.19" font-size="8.6" text-anchor="end" textLength="18.75" lengthAdjust="spacingAndGlyphs">2000</text>
<line x1="228.5" y1="144.2" x2="231.2" y2="144.2" stroke="#262626" stroke-width="1"/>
<text x="225.4" y="147.25" font-size="8.6" text-anchor="end" textLength="18.75" lengthAdjust="spacingAndGlyphs">3000</text>
<line x1="231.2" y1="141.8" x2="231.2" y2="213.5" stroke="#262626" stroke-width="1.2"/>
<line x1="231.2" y1="213" x2="336" y2="213" stroke="#262626" stroke-width="1.2"/>
<line x1="317.3" y1="210" x2="317.3" y2="216.3" stroke="#262626" stroke-width="1"/>
<line x1="231.4" y1="213" x2="231.4" y2="216.3" stroke="#262626" stroke-width="1"/>
<line x1="242.3" y1="213" x2="242.3" y2="216.3" stroke="#262626" stroke-width="1"/>
<line x1="253.4" y1="213" x2="253.4" y2="216.3" stroke="#262626" stroke-width="1"/>
<line x1="264.7" y1="213" x2="264.7" y2="216.3" stroke="#262626" stroke-width="1"/>
<line x1="275.3" y1="213" x2="275.3" y2="216.3" stroke="#262626" stroke-width="1"/>
<line x1="284.5" y1="213" x2="284.5" y2="216.3" stroke="#262626" stroke-width="1"/>
<line x1="297.7" y1="213" x2="297.7" y2="216.3" stroke="#262626" stroke-width="1"/>
<line x1="311.1" y1="213" x2="311.1" y2="216.3" stroke="#262626" stroke-width="1"/>
<line x1="335.1" y1="213" x2="335.1" y2="216.3" stroke="#262626" stroke-width="1"/>
<text x="231.4" y="225.95" font-size="8.6" text-anchor="middle" textLength="4.69" lengthAdjust="spacingAndGlyphs">0</text>
<text x="242.3" y="225.95" font-size="8.6" text-anchor="middle" textLength="4.69" lengthAdjust="spacingAndGlyphs">2</text>
<text x="253.4" y="225.95" font-size="8.6" text-anchor="middle" textLength="4.69" lengthAdjust="spacingAndGlyphs">4</text>
<text x="264.7" y="225.95" font-size="8.6" text-anchor="middle" textLength="4.69" lengthAdjust="spacingAndGlyphs">6</text>
<text x="275.3" y="225.95" font-size="8.6" text-anchor="middle" textLength="4.69" lengthAdjust="spacingAndGlyphs">8</text>
<text x="284.5" y="225.95" font-size="8.6" text-anchor="middle" textLength="9.37" lengthAdjust="spacingAndGlyphs">24</text>
<text x="297.7" y="225.95" font-size="8.6" text-anchor="middle" textLength="9.37" lengthAdjust="spacingAndGlyphs">48</text>
<text x="311.1" y="225.95" font-size="8.6" text-anchor="middle" textLength="9.37" lengthAdjust="spacingAndGlyphs">72</text>
<text x="335.1" y="225.95" font-size="8.6" text-anchor="middle" textLength="14.06" lengthAdjust="spacingAndGlyphs">168</text>
<text x="284.5" y="239.75" font-size="9.8" text-anchor="middle" textLength="34.8" lengthAdjust="spacingAndGlyphs" style="stroke-width:0.3px">Time (hrs)</text>
<text x="201.87" y="177" font-size="9.9" text-anchor="middle" textLength="50.2" lengthAdjust="spacingAndGlyphs" transform="rotate(-90 201.87 177)" style="stroke-width:0.3px">Kal-AT (AU/ml)</text>
<line x1="242.3" y1="177.2" x2="242.3" y2="195.5" stroke="#24417f" stroke-width="1"/>
<line x1="240.5" y1="177.2" x2="244.1" y2="177.2" stroke="#24417f" stroke-width="1"/>
<line x1="240.5" y1="195.5" x2="244.1" y2="195.5" stroke="#24417f" stroke-width="1"/>
<line x1="242.3" y1="158.1" x2="242.3" y2="171.9" stroke="#b31c47" stroke-width="1"/>
<line x1="240.5" y1="158.1" x2="244.1" y2="158.1" stroke="#b31c47" stroke-width="1"/>
<line x1="240.5" y1="171.9" x2="244.1" y2="171.9" stroke="#b31c47" stroke-width="1"/>
<line x1="253.4" y1="181.2" x2="253.4" y2="189.2" stroke="#b31c47" stroke-width="1"/>
<line x1="251.6" y1="181.2" x2="255.2" y2="181.2" stroke="#b31c47" stroke-width="1"/>
<line x1="251.6" y1="189.2" x2="255.2" y2="189.2" stroke="#b31c47" stroke-width="1"/>
<line x1="264.7" y1="187.4" x2="264.7" y2="192.4" stroke="#b31c47" stroke-width="1"/>
<line x1="262.9" y1="187.4" x2="266.5" y2="187.4" stroke="#b31c47" stroke-width="1"/>
<line x1="262.9" y1="192.4" x2="266.5" y2="192.4" stroke="#b31c47" stroke-width="1"/>
<line x1="275.3" y1="190.2" x2="275.3" y2="195.2" stroke="#b31c47" stroke-width="1"/>
<line x1="273.5" y1="190.2" x2="277.1" y2="190.2" stroke="#b31c47" stroke-width="1"/>
<line x1="273.5" y1="195.2" x2="277.1" y2="195.2" stroke="#b31c47" stroke-width="1"/>
<line x1="284.5" y1="165" x2="284.5" y2="197.3" stroke="#b31c47" stroke-width="1"/>
<line x1="282.7" y1="165" x2="286.3" y2="165" stroke="#b31c47" stroke-width="1"/>
<line x1="282.7" y1="197.3" x2="286.3" y2="197.3" stroke="#b31c47" stroke-width="1"/>
<polyline points="231.5,213 242.3,186.9 253.4,210.7 264.7,210 275.3,213 284.5,213 297.7,213 311.1,213 335.1,212.3" fill="none" stroke="#24417f" stroke-width="1.1" stroke-linejoin="round"/>
<polyline points="231.5,213 242.3,165.5 253.4,185.3 264.7,189.9 275.3,192.7 284.5,181.2" fill="none" stroke="#b31c47" stroke-width="1.2" stroke-linejoin="round"/>
<circle cx="231.5" cy="213" r="1.55" fill="#fff" stroke="#24417f" stroke-width="0.95"/>
<circle cx="242.3" cy="186.9" r="1.55" fill="#fff" stroke="#24417f" stroke-width="0.95"/>
<circle cx="253.4" cy="210.7" r="1.55" fill="#fff" stroke="#24417f" stroke-width="0.95"/>
<circle cx="264.7" cy="210" r="1.55" fill="#fff" stroke="#24417f" stroke-width="0.95"/>
<circle cx="275.3" cy="213" r="1.55" fill="#fff" stroke="#24417f" stroke-width="0.95"/>
<circle cx="284.5" cy="213" r="1.55" fill="#fff" stroke="#24417f" stroke-width="0.95"/>
<circle cx="297.7" cy="213" r="1.55" fill="#fff" stroke="#24417f" stroke-width="0.95"/>
<circle cx="311.1" cy="213" r="1.55" fill="#fff" stroke="#24417f" stroke-width="0.95"/>
<circle cx="335.1" cy="212.3" r="1.55" fill="#fff" stroke="#24417f" stroke-width="0.95"/>
<circle cx="231.5" cy="213" r="1.65" fill="#a3123a"/>
<circle cx="242.3" cy="165.5" r="1.65" fill="#a3123a"/>
<circle cx="253.4" cy="185.3" r="1.65" fill="#a3123a"/>
<circle cx="264.7" cy="189.9" r="1.65" fill="#a3123a"/>
<circle cx="275.3" cy="192.7" r="1.65" fill="#a3123a"/>
<circle cx="284.5" cy="181.2" r="1.65" fill="#a3123a"/>
<text x="254.2" y="203.33" font-size="7.8" text-anchor="middle" textLength="10.2" lengthAdjust="spacingAndGlyphs">***</text>
<text x="264.8" y="207.93" font-size="7.8" text-anchor="middle" textLength="10.61" lengthAdjust="spacingAndGlyphs">***</text>
<text x="280.4" y="207.93" font-size="7.8" text-anchor="middle" textLength="21.22" lengthAdjust="spacingAndGlyphs">******</text>
<text x="300" y="205.4" font-size="7.2" style="stroke-width:0.2px" textLength="34.6" lengthAdjust="spacing">pvl: 2e-13</text>
</g>
<g id="pF">
<text x="351.8" y="139.85" font-size="12" fill="#000" font-weight="bold" style="stroke:none">F</text>
<line x1="399.7" y1="213" x2="402.4" y2="213" stroke="#262626" stroke-width="1"/>
<text x="396.6" y="216.05" font-size="8.6" text-anchor="end" textLength="4.69" lengthAdjust="spacingAndGlyphs">0</text>
<line x1="399.7" y1="199.24" x2="402.4" y2="199.24" stroke="#262626" stroke-width="1"/>
<text x="396.6" y="202.29" font-size="8.6" text-anchor="end" textLength="9.37" lengthAdjust="spacingAndGlyphs">10</text>
<line x1="399.7" y1="185.48" x2="402.4" y2="185.48" stroke="#262626" stroke-width="1"/>
<text x="396.6" y="188.53" font-size="8.6" text-anchor="end" textLength="9.37" lengthAdjust="spacingAndGlyphs">20</text>
<line x1="399.7" y1="171.72" x2="402.4" y2="171.72" stroke="#262626" stroke-width="1"/>
<text x="396.6" y="174.77" font-size="8.6" text-anchor="end" textLength="9.37" lengthAdjust="spacingAndGlyphs">30</text>
<line x1="399.7" y1="157.96" x2="402.4" y2="157.96" stroke="#262626" stroke-width="1"/>
<text x="396.6" y="161.01" font-size="8.6" text-anchor="end" textLength="9.37" lengthAdjust="spacingAndGlyphs">40</text>
<line x1="399.7" y1="144.2" x2="402.4" y2="144.2" stroke="#262626" stroke-width="1"/>
<text x="396.6" y="147.25" font-size="8.6" text-anchor="end" textLength="9.37" lengthAdjust="spacingAndGlyphs">50</text>
<line x1="402.4" y1="141.8" x2="402.4" y2="213.5" stroke="#262626" stroke-width="1.2"/>
<line x1="402.4" y1="213" x2="507" y2="213" stroke="#262626" stroke-width="1.2"/>
<line x1="496.5" y1="210" x2="496.5" y2="216.3" stroke="#262626" stroke-width="1"/>
<line x1="402.4" y1="213" x2="402.4" y2="216.3" stroke="#262626" stroke-width="1"/>
<line x1="413.5" y1="213" x2="413.5" y2="216.3" stroke="#262626" stroke-width="1"/>
<line x1="424.5" y1="213" x2="424.5" y2="216.3" stroke="#262626" stroke-width="1"/>
<line x1="435.8" y1="213" x2="435.8" y2="216.3" stroke="#262626" stroke-width="1"/>
<line x1="446.9" y1="213" x2="446.9" y2="216.3" stroke="#262626" stroke-width="1"/>
<line x1="455" y1="213" x2="455" y2="216.3" stroke="#262626" stroke-width="1"/>
<line x1="472.8" y1="213" x2="472.8" y2="216.3" stroke="#262626" stroke-width="1"/>
<line x1="490.3" y1="213" x2="490.3" y2="216.3" stroke="#262626" stroke-width="1"/>
<line x1="505.8" y1="213" x2="505.8" y2="216.3" stroke="#262626" stroke-width="1"/>
<text x="402.4" y="225.95" font-size="8.6" text-anchor="middle" textLength="4.69" lengthAdjust="spacingAndGlyphs">0</text>
<text x="413.5" y="225.95" font-size="8.6" text-anchor="middle" textLength="4.69" lengthAdjust="spacingAndGlyphs">2</text>
<text x="424.5" y="225.95" font-size="8.6" text-anchor="middle" textLength="4.69" lengthAdjust="spacingAndGlyphs">4</text>
<text x="435.8" y="225.95" font-size="8.6" text-anchor="middle" textLength="4.69" lengthAdjust="spacingAndGlyphs">6</text>
<text x="446.9" y="225.95" font-size="8.6" text-anchor="middle" textLength="4.69" lengthAdjust="spacingAndGlyphs">8</text>
<text x="456.5" y="225.95" font-size="8.6" text-anchor="middle" textLength="9.37" lengthAdjust="spacingAndGlyphs">24</text>
<text x="472.8" y="225.95" font-size="8.6" text-anchor="middle" textLength="9.37" lengthAdjust="spacingAndGlyphs">48</text>
<text x="490.3" y="225.95" font-size="8.6" text-anchor="middle" textLength="9.37" lengthAdjust="spacingAndGlyphs">72</text>
<text x="505.8" y="225.95" font-size="8.6" text-anchor="middle" textLength="14.06" lengthAdjust="spacingAndGlyphs">168</text>
<text x="454.5" y="239.75" font-size="9.8" text-anchor="middle" textLength="34.8" lengthAdjust="spacingAndGlyphs" style="stroke-width:0.3px">Time (hrs)</text>
<text x="381.57" y="176.8" font-size="9.9" text-anchor="middle" textLength="66.3" lengthAdjust="spacingAndGlyphs" transform="rotate(-90 381.57 176.8)" style="stroke-width:0.3px">Kal-C1INH (AU/ml)</text>
<line x1="424.5" y1="149.3" x2="424.5" y2="197.8" stroke="#b31c47" stroke-width="1"/>
<line x1="422.7" y1="149.3" x2="426.3" y2="149.3" stroke="#b31c47" stroke-width="1"/>
<line x1="422.7" y1="197.8" x2="426.3" y2="197.8" stroke="#b31c47" stroke-width="1"/>
<line x1="435.8" y1="161.5" x2="435.8" y2="200.3" stroke="#b31c47" stroke-width="1"/>
<line x1="434" y1="161.5" x2="437.6" y2="161.5" stroke="#b31c47" stroke-width="1"/>
<line x1="434" y1="200.3" x2="437.6" y2="200.3" stroke="#b31c47" stroke-width="1"/>
<line x1="446.9" y1="201.5" x2="446.9" y2="206.5" stroke="#b31c47" stroke-width="1"/>
<line x1="445.1" y1="201.5" x2="448.7" y2="201.5" stroke="#b31c47" stroke-width="1"/>
<line x1="445.1" y1="206.5" x2="448.7" y2="206.5" stroke="#b31c47" stroke-width="1"/>
<polyline points="402.4,213 413.5,213 424.5,213 435.8,213 446.9,213 455,213 472.8,213 490.3,213 505.8,213" fill="none" stroke="#24417f" stroke-width="1.1" stroke-linejoin="round"/>
<polyline points="402.4,213 413.5,212.3 424.5,173.8 435.8,181.2 446.9,204.2 455,213" fill="none" stroke="#b31c47" stroke-width="1.2" stroke-linejoin="round"/>
<circle cx="402.4" cy="213" r="1.55" fill="#fff" stroke="#24417f" stroke-width="0.95"/>
<circle cx="413.5" cy="213" r="1.55" fill="#fff" stroke="#24417f" stroke-width="0.95"/>
<circle cx="424.5" cy="213" r="1.55" fill="#fff" stroke="#24417f" stroke-width="0.95"/>
<circle cx="435.8" cy="213" r="1.55" fill="#fff" stroke="#24417f" stroke-width="0.95"/>
<circle cx="446.9" cy="213" r="1.55" fill="#fff" stroke="#24417f" stroke-width="0.95"/>
<circle cx="455" cy="213" r="1.55" fill="#fff" stroke="#24417f" stroke-width="0.95"/>
<circle cx="472.8" cy="213" r="1.55" fill="#fff" stroke="#24417f" stroke-width="0.95"/>
<circle cx="490.3" cy="213" r="1.55" fill="#fff" stroke="#24417f" stroke-width="0.95"/>
<circle cx="505.8" cy="213" r="1.55" fill="#fff" stroke="#24417f" stroke-width="0.95"/>
<circle cx="402.4" cy="213" r="1.65" fill="#a3123a"/>
<circle cx="413.5" cy="212.3" r="1.65" fill="#a3123a"/>
<circle cx="424.5" cy="173.8" r="1.65" fill="#a3123a"/>
<circle cx="435.8" cy="181.2" r="1.65" fill="#a3123a"/>
<circle cx="446.9" cy="204.2" r="1.65" fill="#a3123a"/>
<circle cx="455" cy="213" r="1.65" fill="#a3123a"/>
<text x="429.85" y="209.13" font-size="7.8" text-anchor="middle" textLength="21.73" lengthAdjust="spacingAndGlyphs">******</text>
<text x="446.85" y="213.73" font-size="7.8" text-anchor="middle" textLength="7.24" lengthAdjust="spacingAndGlyphs">**</text>
<text x="471.8" y="205.4" font-size="7.2" style="stroke-width:0.2px" textLength="33.5" lengthAdjust="spacing">pvl: 0.001</text>
</g>
<g id="pG">
<text x="7.5" y="262.3" font-size="12" fill="#000" font-weight="bold" style="stroke:none">G</text>
<line x1="54.2" y1="345.6" x2="56.9" y2="345.6" stroke="#262626" stroke-width="1"/>
<text x="50.6" y="348.65" font-size="8.6" text-anchor="end" textLength="11.71" lengthAdjust="spacingAndGlyphs">0.0</text>
<line x1="54.2" y1="331.88" x2="56.9" y2="331.88" stroke="#262626" stroke-width="1"/>
<text x="50.6" y="334.93" font-size="8.6" text-anchor="end" textLength="11.71" lengthAdjust="spacingAndGlyphs">0.5</text>
<line x1="54.2" y1="318.16" x2="56.9" y2="318.16" stroke="#262626" stroke-width="1"/>
<text x="50.6" y="321.21" font-size="8.6" text-anchor="end" textLength="11.71" lengthAdjust="spacingAndGlyphs">1.0</text>
<line x1="54.2" y1="304.44" x2="56.9" y2="304.44" stroke="#262626" stroke-width="1"/>
<text x="50.6" y="307.49" font-size="8.6" text-anchor="end" textLength="11.71" lengthAdjust="spacingAndGlyphs">1.5</text>
<line x1="54.2" y1="290.72" x2="56.9" y2="290.72" stroke="#262626" stroke-width="1"/>
<text x="50.6" y="293.77" font-size="8.6" text-anchor="end" textLength="11.71" lengthAdjust="spacingAndGlyphs">2.0</text>
<line x1="54.2" y1="277" x2="56.9" y2="277" stroke="#262626" stroke-width="1"/>
<text x="50.6" y="280.05" font-size="8.6" text-anchor="end" textLength="11.71" lengthAdjust="spacingAndGlyphs">2.5</text>
<line x1="56.9" y1="274.6" x2="56.9" y2="346.1" stroke="#262626" stroke-width="1.2"/>
<line x1="56.9" y1="345.6" x2="101.2" y2="345.6" stroke="#262626" stroke-width="1.2"/>
<line x1="109.5" y1="345.6" x2="144.6" y2="345.6" stroke="#262626" stroke-width="1.2"/>
<line x1="150.4" y1="345.6" x2="161.5" y2="345.6" stroke="#262626" stroke-width="1.2"/>
<line x1="101.2" y1="342.6" x2="101.2" y2="348.9" stroke="#262626" stroke-width="1"/>
<line x1="109.5" y1="342.6" x2="109.5" y2="348.9" stroke="#262626" stroke-width="1"/>
<line x1="144.6" y1="342.6" x2="144.6" y2="348.9" stroke="#262626" stroke-width="1"/>
<line x1="150.4" y1="342.6" x2="150.4" y2="348.9" stroke="#262626" stroke-width="1"/>
<line x1="59.2" y1="345.6" x2="59.2" y2="348.9" stroke="#262626" stroke-width="1"/>
<line x1="70.1" y1="345.6" x2="70.1" y2="348.9" stroke="#262626" stroke-width="1"/>
<line x1="80" y1="345.6" x2="80" y2="348.9" stroke="#262626" stroke-width="1"/>
<line x1="90.8" y1="345.6" x2="90.8" y2="348.9" stroke="#262626" stroke-width="1"/>
<line x1="101.2" y1="345.6" x2="101.2" y2="348.9" stroke="#262626" stroke-width="1"/>
<line x1="109.5" y1="345.6" x2="109.5" y2="348.9" stroke="#262626" stroke-width="1"/>
<line x1="126.9" y1="345.6" x2="126.9" y2="348.9" stroke="#262626" stroke-width="1"/>
<line x1="144.6" y1="345.6" x2="144.6" y2="348.9" stroke="#262626" stroke-width="1"/>
<line x1="159.6" y1="345.6" x2="159.6" y2="348.9" stroke="#262626" stroke-width="1"/>
<text x="59.2" y="359.2" font-size="8.6" text-anchor="middle" textLength="4.69" lengthAdjust="spacingAndGlyphs">0</text>
<text x="70.1" y="359.2" font-size="8.6" text-anchor="middle" textLength="4.69" lengthAdjust="spacingAndGlyphs">2</text>
<text x="80" y="359.2" font-size="8.6" text-anchor="middle" textLength="4.69" lengthAdjust="spacingAndGlyphs">4</text>
<text x="90.8" y="359.2" font-size="8.6" text-anchor="middle" textLength="4.69" lengthAdjust="spacingAndGlyphs">6</text>
<text x="101.2" y="359.2" font-size="8.6" text-anchor="middle" textLength="4.69" lengthAdjust="spacingAndGlyphs">8</text>
<text x="109.5" y="359.2" font-size="8.6" text-anchor="middle" textLength="9.37" lengthAdjust="spacingAndGlyphs">24</text>
<text x="126.9" y="359.2" font-size="8.6" text-anchor="middle" textLength="9.37" lengthAdjust="spacingAndGlyphs">48</text>
<text x="144.6" y="359.2" font-size="8.6" text-anchor="middle" textLength="9.37" lengthAdjust="spacingAndGlyphs">72</text>
<text x="159.6" y="359.2" font-size="8.6" text-anchor="middle" textLength="14.06" lengthAdjust="spacingAndGlyphs">168</text>
<text x="110" y="372.1" font-size="9.8" text-anchor="middle" textLength="34.8" lengthAdjust="spacingAndGlyphs" style="stroke-width:0.3px">Time (hrs)</text>
<text x="32.77" y="309.9" font-size="9.9" text-anchor="middle" textLength="84.3" lengthAdjust="spacingAndGlyphs" transform="rotate(-90 32.77 309.9)" style="stroke-width:0.3px">Total kininogen (µg/ml)</text>
<line x1="56.9" y1="302.2" x2="56.9" y2="308.4" stroke="#24417f" stroke-width="1"/>
<line x1="55.1" y1="302.2" x2="58.7" y2="302.2" stroke="#24417f" stroke-width="1"/>
<line x1="55.1" y1="308.4" x2="58.7" y2="308.4" stroke="#24417f" stroke-width="1"/>
<line x1="59.2" y1="294.5" x2="59.2" y2="300.3" stroke="#24417f" stroke-width="1"/>
<line x1="57.4" y1="294.5" x2="61" y2="294.5" stroke="#24417f" stroke-width="1"/>
<line x1="57.4" y1="300.3" x2="61" y2="300.3" stroke="#24417f" stroke-width="1"/>
<line x1="70.1" y1="303.8" x2="70.1" y2="316.9" stroke="#24417f" stroke-width="1"/>
<line x1="68.3" y1="303.8" x2="71.9" y2="303.8" stroke="#24417f" stroke-width="1"/>
<line x1="68.3" y1="316.9" x2="71.9" y2="316.9" stroke="#24417f" stroke-width="1"/>
<line x1="80" y1="292.2" x2="80" y2="301" stroke="#24417f" stroke-width="1"/>
<line x1="78.2" y1="292.2" x2="81.8" y2="292.2" stroke="#24417f" stroke-width="1"/>
<line x1="78.2" y1="301" x2="81.8" y2="301" stroke="#24417f" stroke-width="1"/>
<line x1="90.8" y1="288.8" x2="90.8" y2="299.8" stroke="#24417f" stroke-width="1"/>
<line x1="89" y1="288.8" x2="92.6" y2="288.8" stroke="#24417f" stroke-width="1"/>
<line x1="89" y1="299.8" x2="92.6" y2="299.8" stroke="#24417f" stroke-width="1"/>
<line x1="101.2" y1="291.8" x2="101.2" y2="300.3" stroke="#24417f" stroke-width="1"/>
<line x1="99.4" y1="291.8" x2="103" y2="291.8" stroke="#24417f" stroke-width="1"/>
<line x1="99.4" y1="300.3" x2="103" y2="300.3" stroke="#24417f" stroke-width="1"/>
<line x1="109.5" y1="308.4" x2="109.5" y2="317.2" stroke="#24417f" stroke-width="1"/>
<line x1="107.7" y1="308.4" x2="111.3" y2="308.4" stroke="#24417f" stroke-width="1"/>
<line x1="107.7" y1="317.2" x2="111.3" y2="317.2" stroke="#24417f" stroke-width="1"/>
<line x1="126.9" y1="294.5" x2="126.9" y2="302.2" stroke="#24417f" stroke-width="1"/>
<line x1="125.1" y1="294.5" x2="128.7" y2="294.5" stroke="#24417f" stroke-width="1"/>
<line x1="125.1" y1="302.2" x2="128.7" y2="302.2" stroke="#24417f" stroke-width="1"/>
<line x1="144.6" y1="290.5" x2="144.6" y2="298.5" stroke="#24417f" stroke-width="1"/>
<line x1="142.8" y1="290.5" x2="146.4" y2="290.5" stroke="#24417f" stroke-width="1"/>
<line x1="142.8" y1="298.5" x2="146.4" y2="298.5" stroke="#24417f" stroke-width="1"/>
<line x1="159.6" y1="292.2" x2="159.6" y2="303.1" stroke="#24417f" stroke-width="1"/>
<line x1="157.8" y1="292.2" x2="161.4" y2="292.2" stroke="#24417f" stroke-width="1"/>
<line x1="157.8" y1="303.1" x2="161.4" y2="303.1" stroke="#24417f" stroke-width="1"/>
<line x1="59.2" y1="309.5" x2="59.2" y2="326.2" stroke="#b31c47" stroke-width="1"/>
<line x1="57.4" y1="309.5" x2="61" y2="309.5" stroke="#b31c47" stroke-width="1"/>
<line x1="57.4" y1="326.2" x2="61" y2="326.2" stroke="#b31c47" stroke-width="1"/>
<line x1="70.1" y1="322.2" x2="70.1" y2="334.5" stroke="#b31c47" stroke-width="1"/>
<line x1="68.3" y1="322.2" x2="71.9" y2="322.2" stroke="#b31c47" stroke-width="1"/>
<line x1="68.3" y1="334.5" x2="71.9" y2="334.5" stroke="#b31c47" stroke-width="1"/>
<line x1="80" y1="335.6" x2="80" y2="342.3" stroke="#b31c47" stroke-width="1"/>
<line x1="78.2" y1="335.6" x2="81.8" y2="335.6" stroke="#b31c47" stroke-width="1"/>
<line x1="78.2" y1="342.3" x2="81.8" y2="342.3" stroke="#b31c47" stroke-width="1"/>
<line x1="90.8" y1="331.5" x2="90.8" y2="341.4" stroke="#b31c47" stroke-width="1"/>
<line x1="89" y1="331.5" x2="92.6" y2="331.5" stroke="#b31c47" stroke-width="1"/>
<line x1="89" y1="341.4" x2="92.6" y2="341.4" stroke="#b31c47" stroke-width="1"/>
<line x1="101.2" y1="324.1" x2="101.2" y2="338.4" stroke="#b31c47" stroke-width="1"/>
<line x1="99.4" y1="324.1" x2="103" y2="324.1" stroke="#b31c47" stroke-width="1"/>
<line x1="99.4" y1="338.4" x2="103" y2="338.4" stroke="#b31c47" stroke-width="1"/>
<line x1="109.5" y1="328.7" x2="109.5" y2="340.7" stroke="#b31c47" stroke-width="1"/>
<line x1="107.7" y1="328.7" x2="111.3" y2="328.7" stroke="#b31c47" stroke-width="1"/>
<line x1="107.7" y1="340.7" x2="111.3" y2="340.7" stroke="#b31c47" stroke-width="1"/>
<polyline points="56.9,304.9 59.2,297.5 70.1,310 80,296.8 90.8,294.1 101.2,296.4 109.5,313 126.9,298 144.6,294.5 159.6,297.5" fill="none" stroke="#24417f" stroke-width="1.1" stroke-linejoin="round"/>
<polyline points="59.2,317.6 70.1,328 80,339.1 90.8,336.5 101.2,331 109.5,334.9" fill="none" stroke="#b31c47" stroke-width="1.2" stroke-linejoin="round"/>
<circle cx="56.9" cy="304.9" r="1.55" fill="#fff" stroke="#24417f" stroke-width="0.95"/>
<circle cx="59.2" cy="297.5" r="1.55" fill="#fff" stroke="#24417f" stroke-width="0.95"/>
<circle cx="70.1" cy="310" r="1.55" fill="#fff" stroke="#24417f" stroke-width="0.95"/>
<circle cx="80" cy="296.8" r="1.55" fill="#fff" stroke="#24417f" stroke-width="0.95"/>
<circle cx="90.8" cy="294.1" r="1.55" fill="#fff" stroke="#24417f" stroke-width="0.95"/>
<circle cx="101.2" cy="296.4" r="1.55" fill="#fff" stroke="#24417f" stroke-width="0.95"/>
<circle cx="109.5" cy="313" r="1.55" fill="#fff" stroke="#24417f" stroke-width="0.95"/>
<circle cx="126.9" cy="298" r="1.55" fill="#fff" stroke="#24417f" stroke-width="0.95"/>
<circle cx="144.6" cy="294.5" r="1.55" fill="#fff" stroke="#24417f" stroke-width="0.95"/>
<circle cx="159.6" cy="297.5" r="1.55" fill="#fff" stroke="#24417f" stroke-width="0.95"/>
<circle cx="59.2" cy="317.6" r="1.65" fill="#a3123a"/>
<circle cx="70.1" cy="328" r="1.65" fill="#a3123a"/>
<circle cx="80" cy="339.1" r="1.65" fill="#a3123a"/>
<circle cx="90.8" cy="336.5" r="1.65" fill="#a3123a"/>
<circle cx="101.2" cy="331" r="1.65" fill="#a3123a"/>
<circle cx="109.5" cy="334.9" r="1.65" fill="#a3123a"/>
<text x="60.4" y="294.93" font-size="7.8" text-anchor="middle" textLength="5.92" lengthAdjust="spacingAndGlyphs">**</text>
<text x="70" y="302.93" font-size="7.8" text-anchor="middle" textLength="2.86" lengthAdjust="spacingAndGlyphs">*</text>
<text x="80.4" y="334.53" font-size="7.8" text-anchor="middle" textLength="9.38" lengthAdjust="spacingAndGlyphs">***</text>
<text x="91" y="331.73" font-size="7.8" text-anchor="middle" textLength="9.18" lengthAdjust="spacingAndGlyphs">***</text>
<text x="101.3" y="323.73" font-size="7.8" text-anchor="middle" textLength="9.18" lengthAdjust="spacingAndGlyphs">***</text>
<text x="120.4" y="338.4" font-size="7.2" style="stroke-width:0.2px" textLength="36.9" lengthAdjust="spacing">pvl: 6.7e-6</text>
</g>
<g id="pH">
<text x="176.8" y="262.3" font-size="12" fill="#000" font-weight="bold" style="stroke:none">H</text>
<line x1="228.8" y1="345.6" x2="231.5" y2="345.6" stroke="#262626" stroke-width="1"/>
<text x="225.4" y="348.65" font-size="8.6" text-anchor="end" textLength="11.71" lengthAdjust="spacingAndGlyphs">0.0</text>
<line x1="228.8" y1="331.88" x2="231.5" y2="331.88" stroke="#262626" stroke-width="1"/>
<text x="225.4" y="334.93" font-size="8.6" text-anchor="end" textLength="11.71" lengthAdjust="spacingAndGlyphs">0.5</text>
<line x1="228.8" y1="318.16" x2="231.5" y2="318.16" stroke="#262626" stroke-width="1"/>
<text x="225.4" y="321.21" font-size="8.6" text-anchor="end" textLength="11.71" lengthAdjust="spacingAndGlyphs">1.0</text>
<line x1="228.8" y1="304.44" x2="231.5" y2="304.44" stroke="#262626" stroke-width="1"/>
<text x="225.4" y="307.49" font-size="8.6" text-anchor="end" textLength="11.71" lengthAdjust="spacingAndGlyphs">1.5</text>
<line x1="228.8" y1="290.72" x2="231.5" y2="290.72" stroke="#262626" stroke-width="1"/>
<text x="225.4" y="293.77" font-size="8.6" text-anchor="end" textLength="11.71" lengthAdjust="spacingAndGlyphs">2.0</text>
<line x1="228.8" y1="277" x2="231.5" y2="277" stroke="#262626" stroke-width="1"/>
<text x="225.4" y="280.05" font-size="8.6" text-anchor="end" textLength="11.71" lengthAdjust="spacingAndGlyphs">2.5</text>
<line x1="231.5" y1="274.6" x2="231.5" y2="346.1" stroke="#262626" stroke-width="1.2"/>
<line x1="231.5" y1="345.6" x2="275.8" y2="345.6" stroke="#262626" stroke-width="1.2"/>
<line x1="284.3" y1="345.6" x2="319.2" y2="345.6" stroke="#262626" stroke-width="1.2"/>
<line x1="325" y1="345.6" x2="336" y2="345.6" stroke="#262626" stroke-width="1.2"/>
<line x1="275.8" y1="342.6" x2="275.8" y2="348.9" stroke="#262626" stroke-width="1"/>
<line x1="284.3" y1="342.6" x2="284.3" y2="348.9" stroke="#262626" stroke-width="1"/>
<line x1="319.2" y1="342.6" x2="319.2" y2="348.9" stroke="#262626" stroke-width="1"/>
<line x1="325" y1="342.6" x2="325" y2="348.9" stroke="#262626" stroke-width="1"/>
<line x1="234.2" y1="345.6" x2="234.2" y2="348.9" stroke="#262626" stroke-width="1"/>
<line x1="244.6" y1="345.6" x2="244.6" y2="348.9" stroke="#262626" stroke-width="1"/>
<line x1="255" y1="345.6" x2="255" y2="348.9" stroke="#262626" stroke-width="1"/>
<line x1="265.8" y1="345.6" x2="265.8" y2="348.9" stroke="#262626" stroke-width="1"/>
<line x1="275.8" y1="345.6" x2="275.8" y2="348.9" stroke="#262626" stroke-width="1"/>
<line x1="284.3" y1="345.6" x2="284.3" y2="348.9" stroke="#262626" stroke-width="1"/>
<line x1="301.9" y1="345.6" x2="301.9" y2="348.9" stroke="#262626" stroke-width="1"/>
<line x1="319.2" y1="345.6" x2="319.2" y2="348.9" stroke="#262626" stroke-width="1"/>
<line x1="334.2" y1="345.6" x2="334.2" y2="348.9" stroke="#262626" stroke-width="1"/>
<text x="234.2" y="359.2" font-size="8.6" text-anchor="middle" textLength="4.69" lengthAdjust="spacingAndGlyphs">0</text>
<text x="244.6" y="359.2" font-size="8.6" text-anchor="middle" textLength="4.69" lengthAdjust="spacingAndGlyphs">2</text>
<text x="255" y="359.2" font-size="8.6" text-anchor="middle" textLength="4.69" lengthAdjust="spacingAndGlyphs">4</text>
<text x="265.8" y="359.2" font-size="8.6" text-anchor="middle" textLength="4.69" lengthAdjust="spacingAndGlyphs">6</text>
<text x="275.8" y="359.2" font-size="8.6" text-anchor="middle" textLength="4.69" lengthAdjust="spacingAndGlyphs">8</text>
<text x="284.3" y="359.2" font-size="8.6" text-anchor="middle" textLength="9.37" lengthAdjust="spacingAndGlyphs">24</text>
<text x="301.9" y="359.2" font-size="8.6" text-anchor="middle" textLength="9.37" lengthAdjust="spacingAndGlyphs">48</text>
<text x="319.2" y="359.2" font-size="8.6" text-anchor="middle" textLength="9.37" lengthAdjust="spacingAndGlyphs">72</text>
<text x="334.2" y="359.2" font-size="8.6" text-anchor="middle" textLength="14.06" lengthAdjust="spacingAndGlyphs">168</text>
<text x="284.5" y="372.1" font-size="9.8" text-anchor="middle" textLength="34.8" lengthAdjust="spacingAndGlyphs" style="stroke-width:0.3px">Time (hrs)</text>
<text x="207.97" y="309.8" font-size="9.9" text-anchor="middle" textLength="95.5" lengthAdjust="spacingAndGlyphs" transform="rotate(-90 207.97 309.8)" style="stroke-width:0.3px">Cleaved kininogen (µg/ml)</text>
<line x1="284.3" y1="333.3" x2="284.3" y2="337.2" stroke="#24417f" stroke-width="1"/>
<line x1="282.5" y1="333.3" x2="286.1" y2="333.3" stroke="#24417f" stroke-width="1"/>
<line x1="282.5" y1="337.2" x2="286.1" y2="337.2" stroke="#24417f" stroke-width="1"/>
<line x1="234.2" y1="325.2" x2="234.2" y2="332.6" stroke="#b31c47" stroke-width="1"/>
<line x1="232.4" y1="325.2" x2="236" y2="325.2" stroke="#b31c47" stroke-width="1"/>
<line x1="232.4" y1="332.6" x2="236" y2="332.6" stroke="#b31c47" stroke-width="1"/>
<line x1="244.6" y1="296.2" x2="244.6" y2="315.3" stroke="#b31c47" stroke-width="1"/>
<line x1="242.8" y1="296.2" x2="246.4" y2="296.2" stroke="#b31c47" stroke-width="1"/>
<line x1="242.8" y1="315.3" x2="246.4" y2="315.3" stroke="#b31c47" stroke-width="1"/>
<line x1="255" y1="286.5" x2="255" y2="312.3" stroke="#b31c47" stroke-width="1"/>
<line x1="253.2" y1="286.5" x2="256.8" y2="286.5" stroke="#b31c47" stroke-width="1"/>
<line x1="253.2" y1="312.3" x2="256.8" y2="312.3" stroke="#b31c47" stroke-width="1"/>
<line x1="265.8" y1="293.8" x2="265.8" y2="314.2" stroke="#b31c47" stroke-width="1"/>
<line x1="264" y1="293.8" x2="267.6" y2="293.8" stroke="#b31c47" stroke-width="1"/>
<line x1="264" y1="314.2" x2="267.6" y2="314.2" stroke="#b31c47" stroke-width="1"/>
<line x1="275.8" y1="312.5" x2="275.8" y2="323.4" stroke="#b31c47" stroke-width="1"/>
<line x1="274" y1="312.5" x2="277.6" y2="312.5" stroke="#b31c47" stroke-width="1"/>
<line x1="274" y1="323.4" x2="277.6" y2="323.4" stroke="#b31c47" stroke-width="1"/>
<line x1="284.3" y1="328.5" x2="284.3" y2="332.2" stroke="#b31c47" stroke-width="1"/>
<line x1="282.5" y1="328.5" x2="286.1" y2="328.5" stroke="#b31c47" stroke-width="1"/>
<line x1="282.5" y1="332.2" x2="286.1" y2="332.2" stroke="#b31c47" stroke-width="1"/>
<polyline points="231.5,334.5 234.2,340 244.6,340 255,339.5 265.8,338.4 275.8,338.4 284.3,335.6 301.9,339.1 319.2,339.1 334.2,337.2" fill="none" stroke="#24417f" stroke-width="1.1" stroke-linejoin="round"/>
<polyline points="234.2,328.5 244.6,305.6 255,299.2 265.8,303.8 275.8,317.6 284.3,329.8" fill="none" stroke="#b31c47" stroke-width="1.2" stroke-linejoin="round"/>
<circle cx="231.5" cy="334.5" r="1.55" fill="#fff" stroke="#24417f" stroke-width="0.95"/>
<circle cx="234.2" cy="340" r="1.55" fill="#fff" stroke="#24417f" stroke-width="0.95"/>
<circle cx="244.6" cy="340" r="1.55" fill="#fff" stroke="#24417f" stroke-width="0.95"/>
<circle cx="255" cy="339.5" r="1.55" fill="#fff" stroke="#24417f" stroke-width="0.95"/>
<circle cx="265.8" cy="338.4" r="1.55" fill="#fff" stroke="#24417f" stroke-width="0.95"/>
<circle cx="275.8" cy="338.4" r="1.55" fill="#fff" stroke="#24417f" stroke-width="0.95"/>
<circle cx="284.3" cy="335.6" r="1.55" fill="#fff" stroke="#24417f" stroke-width="0.95"/>
<circle cx="301.9" cy="339.1" r="1.55" fill="#fff" stroke="#24417f" stroke-width="0.95"/>
<circle cx="319.2" cy="339.1" r="1.55" fill="#fff" stroke="#24417f" stroke-width="0.95"/>
<circle cx="334.2" cy="337.2" r="1.55" fill="#fff" stroke="#24417f" stroke-width="0.95"/>
<circle cx="234.2" cy="328.5" r="1.65" fill="#a3123a"/>
<circle cx="244.6" cy="305.6" r="1.65" fill="#a3123a"/>
<circle cx="255" cy="299.2" r="1.65" fill="#a3123a"/>
<circle cx="265.8" cy="303.8" r="1.65" fill="#a3123a"/>
<circle cx="275.8" cy="317.6" r="1.65" fill="#a3123a"/>
<circle cx="284.3" cy="329.8" r="1.65" fill="#a3123a"/>
<text x="296.1" y="331.9" font-size="7.2" style="stroke-width:0.2px" textLength="37.4" lengthAdjust="spacing">pvl: 4.8e-6</text>
</g>
<g id="pI">
<text x="351.8" y="262.3" font-size="12" fill="#000" font-weight="bold" style="stroke:none">I</text>
<line x1="399.9" y1="345.6" x2="402.6" y2="345.6" stroke="#262626" stroke-width="1"/>
<text x="396.6" y="348.65" font-size="8.6" text-anchor="end" textLength="4.69" lengthAdjust="spacingAndGlyphs">0</text>
<line x1="399.9" y1="322.73" x2="402.6" y2="322.73" stroke="#262626" stroke-width="1"/>
<text x="396.6" y="325.79" font-size="8.6" text-anchor="end" textLength="18.75" lengthAdjust="spacingAndGlyphs">5000</text>
<line x1="399.9" y1="299.87" x2="402.6" y2="299.87" stroke="#262626" stroke-width="1"/>
<text x="396.6" y="302.92" font-size="8.6" text-anchor="end" textLength="23.43" lengthAdjust="spacingAndGlyphs">10000</text>
<line x1="399.9" y1="277" x2="402.6" y2="277" stroke="#262626" stroke-width="1"/>
<text x="396.6" y="280.05" font-size="8.6" text-anchor="end" textLength="23.43" lengthAdjust="spacingAndGlyphs">15000</text>
<line x1="402.6" y1="274.6" x2="402.6" y2="346.1" stroke="#262626" stroke-width="1.2"/>
<line x1="402.6" y1="345.6" x2="508" y2="345.6" stroke="#262626" stroke-width="1.2"/>
<line x1="497" y1="342.6" x2="497" y2="348.9" stroke="#262626" stroke-width="1"/>
<line x1="404.9" y1="345.6" x2="404.9" y2="348.9" stroke="#262626" stroke-width="1"/>
<line x1="415.8" y1="345.6" x2="415.8" y2="348.9" stroke="#262626" stroke-width="1"/>
<line x1="426.2" y1="345.6" x2="426.2" y2="348.9" stroke="#262626" stroke-width="1"/>
<line x1="436.5" y1="345.6" x2="436.5" y2="348.9" stroke="#262626" stroke-width="1"/>
<line x1="447.6" y1="345.6" x2="447.6" y2="348.9" stroke="#262626" stroke-width="1"/>
<line x1="455.5" y1="345.6" x2="455.5" y2="348.9" stroke="#262626" stroke-width="1"/>
<line x1="473.5" y1="345.6" x2="473.5" y2="348.9" stroke="#262626" stroke-width="1"/>
<line x1="491.9" y1="345.6" x2="491.9" y2="348.9" stroke="#262626" stroke-width="1"/>
<line x1="506.2" y1="345.6" x2="506.2" y2="348.9" stroke="#262626" stroke-width="1"/>
<text x="404.9" y="359.2" font-size="8.6" text-anchor="middle" textLength="4.69" lengthAdjust="spacingAndGlyphs">0</text>
<text x="415.8" y="359.2" font-size="8.6" text-anchor="middle" textLength="4.69" lengthAdjust="spacingAndGlyphs">2</text>
<text x="426.2" y="359.2" font-size="8.6" text-anchor="middle" textLength="4.69" lengthAdjust="spacingAndGlyphs">4</text>
<text x="436.5" y="359.2" font-size="8.6" text-anchor="middle" textLength="4.69" lengthAdjust="spacingAndGlyphs">6</text>
<text x="447.6" y="359.2" font-size="8.6" text-anchor="middle" textLength="4.69" lengthAdjust="spacingAndGlyphs">8</text>
<text x="455.5" y="359.2" font-size="8.6" text-anchor="middle" textLength="9.37" lengthAdjust="spacingAndGlyphs">24</text>
<text x="473.5" y="359.2" font-size="8.6" text-anchor="middle" textLength="9.37" lengthAdjust="spacingAndGlyphs">48</text>
<text x="491.9" y="359.2" font-size="8.6" text-anchor="middle" textLength="9.37" lengthAdjust="spacingAndGlyphs">72</text>
<text x="506.2" y="359.2" font-size="8.6" text-anchor="middle" textLength="14.06" lengthAdjust="spacingAndGlyphs">168</text>
<text x="454.5" y="372.1" font-size="9.8" text-anchor="middle" textLength="34.8" lengthAdjust="spacingAndGlyphs" style="stroke-width:0.3px">Time (hrs)</text>
<text x="367.47" y="309.7" font-size="9.9" text-anchor="middle" textLength="53.2" lengthAdjust="spacingAndGlyphs" transform="rotate(-90 367.47 309.7)" style="stroke-width:0.3px">FXIa-AT (AU/ml)</text>
<line x1="415.8" y1="314.2" x2="415.8" y2="329.2" stroke="#24417f" stroke-width="1"/>
<line x1="414" y1="314.2" x2="417.6" y2="314.2" stroke="#24417f" stroke-width="1"/>
<line x1="414" y1="329.2" x2="417.6" y2="329.2" stroke="#24417f" stroke-width="1"/>
<line x1="415.8" y1="281.4" x2="415.8" y2="296.8" stroke="#b31c47" stroke-width="1"/>
<line x1="414" y1="281.4" x2="417.6" y2="281.4" stroke="#b31c47" stroke-width="1"/>
<line x1="414" y1="296.8" x2="417.6" y2="296.8" stroke="#b31c47" stroke-width="1"/>
<line x1="426.2" y1="324.5" x2="426.2" y2="330.3" stroke="#b31c47" stroke-width="1"/>
<line x1="424.4" y1="324.5" x2="428" y2="324.5" stroke="#b31c47" stroke-width="1"/>
<line x1="424.4" y1="330.3" x2="428" y2="330.3" stroke="#b31c47" stroke-width="1"/>
<line x1="436.5" y1="329.3" x2="436.5" y2="332.3" stroke="#b31c47" stroke-width="1"/>
<line x1="434.7" y1="329.3" x2="438.3" y2="329.3" stroke="#b31c47" stroke-width="1"/>
<line x1="434.7" y1="332.3" x2="438.3" y2="332.3" stroke="#b31c47" stroke-width="1"/>
<line x1="447.6" y1="329.2" x2="447.6" y2="337.2" stroke="#b31c47" stroke-width="1"/>
<line x1="445.8" y1="329.2" x2="449.4" y2="329.2" stroke="#b31c47" stroke-width="1"/>
<line x1="445.8" y1="337.2" x2="449.4" y2="337.2" stroke="#b31c47" stroke-width="1"/>
<polyline points="402.6,345.6 404.9,345.6 415.8,321.8 426.2,343 436.5,342.3 447.6,345.6 455.5,345.6 473.5,345.6 491.9,345.6 506.2,344.2" fill="none" stroke="#24417f" stroke-width="1.1" stroke-linejoin="round"/>
<polyline points="404.9,345.6 415.8,289.9 426.2,327.5 436.5,330.8 447.6,333.3 455.5,335.6" fill="none" stroke="#b31c47" stroke-width="1.2" stroke-linejoin="round"/>
<circle cx="402.6" cy="345.6" r="1.55" fill="#fff" stroke="#24417f" stroke-width="0.95"/>
<circle cx="404.9" cy="345.6" r="1.55" fill="#fff" stroke="#24417f" stroke-width="0.95"/>
<circle cx="415.8" cy="321.8" r="1.55" fill="#fff" stroke="#24417f" stroke-width="0.95"/>
<circle cx="426.2" cy="343" r="1.55" fill="#fff" stroke="#24417f" stroke-width="0.95"/>
<circle cx="436.5" cy="342.3" r="1.55" fill="#fff" stroke="#24417f" stroke-width="0.95"/>
<circle cx="447.6" cy="345.6" r="1.55" fill="#fff" stroke="#24417f" stroke-width="0.95"/>
<circle cx="455.5" cy="345.6" r="1.55" fill="#fff" stroke="#24417f" stroke-width="0.95"/>
<circle cx="473.5" cy="345.6" r="1.55" fill="#fff" stroke="#24417f" stroke-width="0.95"/>
<circle cx="491.9" cy="345.6" r="1.55" fill="#fff" stroke="#24417f" stroke-width="0.95"/>
<circle cx="506.2" cy="344.2" r="1.55" fill="#fff" stroke="#24417f" stroke-width="0.95"/>
<circle cx="404.9" cy="345.6" r="1.65" fill="#a3123a"/>
<circle cx="415.8" cy="289.9" r="1.65" fill="#a3123a"/>
<circle cx="426.2" cy="327.5" r="1.65" fill="#a3123a"/>
<circle cx="436.5" cy="330.8" r="1.65" fill="#a3123a"/>
<circle cx="447.6" cy="333.3" r="1.65" fill="#a3123a"/>
<circle cx="455.5" cy="335.6" r="1.65" fill="#a3123a"/>
<text x="415.8" y="313.93" font-size="7.8" text-anchor="middle" textLength="9.38" lengthAdjust="spacingAndGlyphs">***</text>
<text x="427.3" y="339.33" font-size="7.8" text-anchor="middle" textLength="9.38" lengthAdjust="spacingAndGlyphs">***</text>
<text x="437.1" y="340.23" font-size="7.8" text-anchor="middle" textLength="10.61" lengthAdjust="spacingAndGlyphs">***</text>
<text x="447.25" y="343.93" font-size="7.8" text-anchor="middle" textLength="10.1" lengthAdjust="spacingAndGlyphs">***</text>
<text x="470" y="337.2" font-size="7.2" style="stroke-width:0.2px" textLength="36.9" lengthAdjust="spacing">pvl: 1.3e-6</text>
</g>
<g id="pJ">
<text x="7.5" y="395.45" font-size="12" fill="#000" font-weight="bold" style="stroke:none">J</text>
<line x1="54.2" y1="468.5" x2="56.9" y2="468.5" stroke="#262626" stroke-width="1"/>
<text x="50.6" y="471.55" font-size="8.6" text-anchor="end" textLength="4.69" lengthAdjust="spacingAndGlyphs">0</text>
<line x1="54.2" y1="434.1" x2="56.9" y2="434.1" stroke="#262626" stroke-width="1"/>
<text x="50.6" y="437.15" font-size="8.6" text-anchor="end" textLength="14.06" lengthAdjust="spacingAndGlyphs">500</text>
<line x1="54.2" y1="399.7" x2="56.9" y2="399.7" stroke="#262626" stroke-width="1"/>
<text x="50.6" y="402.75" font-size="8.6" text-anchor="end" textLength="18.75" lengthAdjust="spacingAndGlyphs">1000</text>
<line x1="56.9" y1="397.3" x2="56.9" y2="469" stroke="#262626" stroke-width="1.2"/>
<line x1="56.9" y1="468.5" x2="162" y2="468.5" stroke="#262626" stroke-width="1.2"/>
<line x1="150.9" y1="465.5" x2="150.9" y2="471.8" stroke="#262626" stroke-width="1"/>
<line x1="56.9" y1="468.5" x2="56.9" y2="471.8" stroke="#262626" stroke-width="1"/>
<line x1="68" y1="468.5" x2="68" y2="471.8" stroke="#262626" stroke-width="1"/>
<line x1="78.8" y1="468.5" x2="78.8" y2="471.8" stroke="#262626" stroke-width="1"/>
<line x1="89.9" y1="468.5" x2="89.9" y2="471.8" stroke="#262626" stroke-width="1"/>
<line x1="101.2" y1="468.5" x2="101.2" y2="471.8" stroke="#262626" stroke-width="1"/>
<line x1="109.5" y1="468.5" x2="109.5" y2="471.8" stroke="#262626" stroke-width="1"/>
<line x1="126.9" y1="468.5" x2="126.9" y2="471.8" stroke="#262626" stroke-width="1"/>
<line x1="144.6" y1="468.5" x2="144.6" y2="471.8" stroke="#262626" stroke-width="1"/>
<line x1="160.3" y1="468.5" x2="160.3" y2="471.8" stroke="#262626" stroke-width="1"/>
<text x="56.9" y="482" font-size="8.6" text-anchor="middle" textLength="4.69" lengthAdjust="spacingAndGlyphs">0</text>
<text x="68" y="482" font-size="8.6" text-anchor="middle" textLength="4.69" lengthAdjust="spacingAndGlyphs">2</text>
<text x="78.8" y="482" font-size="8.6" text-anchor="middle" textLength="4.69" lengthAdjust="spacingAndGlyphs">4</text>
<text x="89.9" y="482" font-size="8.6" text-anchor="middle" textLength="4.69" lengthAdjust="spacingAndGlyphs">6</text>
<text x="101.2" y="482" font-size="8.6" text-anchor="middle" textLength="4.69" lengthAdjust="spacingAndGlyphs">8</text>
<text x="109.5" y="482" font-size="8.6" text-anchor="middle" textLength="9.37" lengthAdjust="spacingAndGlyphs">24</text>
<text x="126.9" y="482" font-size="8.6" text-anchor="middle" textLength="9.37" lengthAdjust="spacingAndGlyphs">48</text>
<text x="144.6" y="482" font-size="8.6" text-anchor="middle" textLength="9.37" lengthAdjust="spacingAndGlyphs">72</text>
<text x="160.3" y="482" font-size="8.6" text-anchor="middle" textLength="14.06" lengthAdjust="spacingAndGlyphs">168</text>
<text x="110" y="495.4" font-size="9.8" text-anchor="middle" textLength="34.8" lengthAdjust="spacingAndGlyphs" style="stroke-width:0.3px">Time (hrs)</text>
<text x="26.57" y="432.2" font-size="9.9" text-anchor="middle" textLength="53.4" lengthAdjust="spacingAndGlyphs" transform="rotate(-90 26.57 432.2)" style="stroke-width:0.3px">FIXa-AT (AU/ml)</text>
<line x1="68" y1="452.3" x2="68" y2="456.9" stroke="#24417f" stroke-width="1"/>
<line x1="66.2" y1="452.3" x2="69.8" y2="452.3" stroke="#24417f" stroke-width="1"/>
<line x1="66.2" y1="456.9" x2="69.8" y2="456.9" stroke="#24417f" stroke-width="1"/>
<line x1="68" y1="443.8" x2="68" y2="451.2" stroke="#b31c47" stroke-width="1"/>
<line x1="66.2" y1="443.8" x2="69.8" y2="443.8" stroke="#b31c47" stroke-width="1"/>
<line x1="66.2" y1="451.2" x2="69.8" y2="451.2" stroke="#b31c47" stroke-width="1"/>
<line x1="78.8" y1="400.8" x2="78.8" y2="441.9" stroke="#b31c47" stroke-width="1"/>
<line x1="77" y1="400.8" x2="80.6" y2="400.8" stroke="#b31c47" stroke-width="1"/>
<line x1="77" y1="441.9" x2="80.6" y2="441.9" stroke="#b31c47" stroke-width="1"/>
<line x1="89.9" y1="406.2" x2="89.9" y2="443.8" stroke="#b31c47" stroke-width="1"/>
<line x1="88.1" y1="406.2" x2="91.7" y2="406.2" stroke="#b31c47" stroke-width="1"/>
<line x1="88.1" y1="443.8" x2="91.7" y2="443.8" stroke="#b31c47" stroke-width="1"/>
<line x1="101.2" y1="448.8" x2="101.2" y2="453.5" stroke="#b31c47" stroke-width="1"/>
<line x1="99.4" y1="448.8" x2="103" y2="448.8" stroke="#b31c47" stroke-width="1"/>
<line x1="99.4" y1="453.5" x2="103" y2="453.5" stroke="#b31c47" stroke-width="1"/>
<line x1="109.5" y1="444.2" x2="109.5" y2="459.9" stroke="#b31c47" stroke-width="1"/>
<line x1="107.7" y1="444.2" x2="111.3" y2="444.2" stroke="#b31c47" stroke-width="1"/>
<line x1="107.7" y1="459.9" x2="111.3" y2="459.9" stroke="#b31c47" stroke-width="1"/>
<polyline points="56.9,468.5 68,454.6 78.8,465.5 89.9,464.5 101.2,466.9 109.5,468.5 126.9,468.5 144.6,468.5 160.3,468.5" fill="none" stroke="#24417f" stroke-width="1.1" stroke-linejoin="round"/>
<polyline points="56.9,468.5 68,447.7 78.8,421.6 89.9,425.1 101.2,451.6 109.5,452.3" fill="none" stroke="#b31c47" stroke-width="1.2" stroke-linejoin="round"/>
<circle cx="56.9" cy="468.5" r="1.55" fill="#fff" stroke="#24417f" stroke-width="0.95"/>
<circle cx="68" cy="454.6" r="1.55" fill="#fff" stroke="#24417f" stroke-width="0.95"/>
<circle cx="78.8" cy="465.5" r="1.55" fill="#fff" stroke="#24417f" stroke-width="0.95"/>
<circle cx="89.9" cy="464.5" r="1.55" fill="#fff" stroke="#24417f" stroke-width="0.95"/>
<circle cx="101.2" cy="466.9" r="1.55" fill="#fff" stroke="#24417f" stroke-width="0.95"/>
<circle cx="109.5" cy="468.5" r="1.55" fill="#fff" stroke="#24417f" stroke-width="0.95"/>
<circle cx="126.9" cy="468.5" r="1.55" fill="#fff" stroke="#24417f" stroke-width="0.95"/>
<circle cx="144.6" cy="468.5" r="1.55" fill="#fff" stroke="#24417f" stroke-width="0.95"/>
<circle cx="160.3" cy="468.5" r="1.55" fill="#fff" stroke="#24417f" stroke-width="0.95"/>
<circle cx="56.9" cy="468.5" r="1.65" fill="#a3123a"/>
<circle cx="68" cy="447.7" r="1.65" fill="#a3123a"/>
<circle cx="78.8" cy="421.6" r="1.65" fill="#a3123a"/>
<circle cx="89.9" cy="425.1" r="1.65" fill="#a3123a"/>
<circle cx="101.2" cy="451.6" r="1.65" fill="#a3123a"/>
<circle cx="109.5" cy="452.3" r="1.65" fill="#a3123a"/>
<text x="68" y="442.63" font-size="7.8" text-anchor="middle" textLength="2.86" lengthAdjust="spacingAndGlyphs">*</text>
<text x="79.4" y="461.83" font-size="7.8" text-anchor="middle" textLength="10.61" lengthAdjust="spacingAndGlyphs">***</text>
<text x="89.8" y="462.93" font-size="7.8" text-anchor="middle" textLength="10.61" lengthAdjust="spacingAndGlyphs">***</text>
<text x="100.4" y="465.93" font-size="7.8" text-anchor="middle" textLength="11.02" lengthAdjust="spacingAndGlyphs">***</text>
<text x="125" y="460.4" font-size="7.2" style="stroke-width:0.2px" textLength="36.5" lengthAdjust="spacing">pvl: 2.8e-9</text>
</g>
<g id="pK">
<text x="176.8" y="395.45" font-size="12" fill="#000" font-weight="bold" style="stroke:none">K</text>
<line x1="228.8" y1="468.5" x2="231.5" y2="468.5" stroke="#262626" stroke-width="1"/>
<text x="225.4" y="471.55" font-size="8.6" text-anchor="end" textLength="4.69" lengthAdjust="spacingAndGlyphs">0</text>
<line x1="228.8" y1="451.3" x2="231.5" y2="451.3" stroke="#262626" stroke-width="1"/>
<text x="225.4" y="454.35" font-size="8.6" text-anchor="end" textLength="18.75" lengthAdjust="spacingAndGlyphs">1000</text>
<line x1="228.8" y1="434.1" x2="231.5" y2="434.1" stroke="#262626" stroke-width="1"/>
<text x="225.4" y="437.15" font-size="8.6" text-anchor="end" textLength="18.75" lengthAdjust="spacingAndGlyphs">2000</text>
<line x1="228.8" y1="416.9" x2="231.5" y2="416.9" stroke="#262626" stroke-width="1"/>
<text x="225.4" y="419.95" font-size="8.6" text-anchor="end" textLength="18.75" lengthAdjust="spacingAndGlyphs">3000</text>
<line x1="228.8" y1="399.7" x2="231.5" y2="399.7" stroke="#262626" stroke-width="1"/>
<text x="225.4" y="402.75" font-size="8.6" text-anchor="end" textLength="18.75" lengthAdjust="spacingAndGlyphs">4000</text>
<line x1="231.5" y1="397.3" x2="231.5" y2="469" stroke="#262626" stroke-width="1.2"/>
<line x1="231.5" y1="468.5" x2="276.9" y2="468.5" stroke="#262626" stroke-width="1.2"/>
<line x1="283.8" y1="468.5" x2="320.3" y2="468.5" stroke="#262626" stroke-width="1.2"/>
<line x1="325.4" y1="468.5" x2="336.5" y2="468.5" stroke="#262626" stroke-width="1.2"/>
<line x1="325.4" y1="465.5" x2="325.4" y2="471.8" stroke="#262626" stroke-width="1"/>
<line x1="234.2" y1="468.5" x2="234.2" y2="471.8" stroke="#262626" stroke-width="1"/>
<line x1="245.1" y1="468.5" x2="245.1" y2="471.8" stroke="#262626" stroke-width="1"/>
<line x1="255.5" y1="468.5" x2="255.5" y2="471.8" stroke="#262626" stroke-width="1"/>
<line x1="266.1" y1="468.5" x2="266.1" y2="471.8" stroke="#262626" stroke-width="1"/>
<line x1="276.9" y1="468.5" x2="276.9" y2="471.8" stroke="#262626" stroke-width="1"/>
<line x1="283.8" y1="468.5" x2="283.8" y2="471.8" stroke="#262626" stroke-width="1"/>
<line x1="302.3" y1="468.5" x2="302.3" y2="471.8" stroke="#262626" stroke-width="1"/>
<line x1="320.3" y1="468.5" x2="320.3" y2="471.8" stroke="#262626" stroke-width="1"/>
<line x1="334.6" y1="468.5" x2="334.6" y2="471.8" stroke="#262626" stroke-width="1"/>
<text x="234.2" y="482" font-size="8.6" text-anchor="middle" textLength="4.69" lengthAdjust="spacingAndGlyphs">0</text>
<text x="245.1" y="482" font-size="8.6" text-anchor="middle" textLength="4.69" lengthAdjust="spacingAndGlyphs">2</text>
<text x="255.5" y="482" font-size="8.6" text-anchor="middle" textLength="4.69" lengthAdjust="spacingAndGlyphs">4</text>
<text x="266.1" y="482" font-size="8.6" text-anchor="middle" textLength="4.69" lengthAdjust="spacingAndGlyphs">6</text>
<text x="276.7" y="482" font-size="8.6" text-anchor="middle" textLength="4.69" lengthAdjust="spacingAndGlyphs">8</text>
<text x="284" y="482" font-size="8.6" text-anchor="middle" textLength="9.37" lengthAdjust="spacingAndGlyphs">24</text>
<text x="302.3" y="482" font-size="8.6" text-anchor="middle" textLength="9.37" lengthAdjust="spacingAndGlyphs">48</text>
<text x="320.3" y="482" font-size="8.6" text-anchor="middle" textLength="9.37" lengthAdjust="spacingAndGlyphs">72</text>
<text x="334.6" y="482" font-size="8.6" text-anchor="middle" textLength="14.06" lengthAdjust="spacingAndGlyphs">168</text>
<text x="284.5" y="495.4" font-size="9.8" text-anchor="middle" textLength="34.8" lengthAdjust="spacingAndGlyphs" style="stroke-width:0.3px">Time (hrs)</text>
<text x="201.67" y="432.6" font-size="9.9" text-anchor="middle" textLength="54.9" lengthAdjust="spacingAndGlyphs" transform="rotate(-90 201.67 432.6)" style="stroke-width:0.3px">FVIIa-AT (AU/ml)</text>
<line x1="245.1" y1="424.6" x2="245.1" y2="444.2" stroke="#24417f" stroke-width="1"/>
<line x1="243.3" y1="424.6" x2="246.9" y2="424.6" stroke="#24417f" stroke-width="1"/>
<line x1="243.3" y1="444.2" x2="246.9" y2="444.2" stroke="#24417f" stroke-width="1"/>
<line x1="245.1" y1="418.2" x2="245.1" y2="435" stroke="#b31c47" stroke-width="1"/>
<line x1="243.3" y1="418.2" x2="246.9" y2="418.2" stroke="#b31c47" stroke-width="1"/>
<line x1="243.3" y1="435" x2="246.9" y2="435" stroke="#b31c47" stroke-width="1"/>
<line x1="255.5" y1="436.2" x2="255.5" y2="446.5" stroke="#b31c47" stroke-width="1"/>
<line x1="253.7" y1="436.2" x2="257.3" y2="436.2" stroke="#b31c47" stroke-width="1"/>
<line x1="253.7" y1="446.5" x2="257.3" y2="446.5" stroke="#b31c47" stroke-width="1"/>
<line x1="266.1" y1="442.6" x2="266.1" y2="449.5" stroke="#b31c47" stroke-width="1"/>
<line x1="264.3" y1="442.6" x2="267.9" y2="442.6" stroke="#b31c47" stroke-width="1"/>
<line x1="264.3" y1="449.5" x2="267.9" y2="449.5" stroke="#b31c47" stroke-width="1"/>
<line x1="283.8" y1="405" x2="283.8" y2="420" stroke="#b31c47" stroke-width="1"/>
<line x1="282" y1="405" x2="285.6" y2="405" stroke="#b31c47" stroke-width="1"/>
<line x1="282" y1="420" x2="285.6" y2="420" stroke="#b31c47" stroke-width="1"/>
<polyline points="231.5,466.9 234.2,467.3 245.1,435 255.5,463.8 266.1,462 276.9,465.7 283.8,467.3 302.3,467.3 320.3,467.3 334.6,465.5" fill="none" stroke="#24417f" stroke-width="1.1" stroke-linejoin="round"/>
<polyline points="234.2,468.5 245.1,428.8 255.5,441.2 266.1,445.9 276.9,452.3 283.8,412.6" fill="none" stroke="#b31c47" stroke-width="1.2" stroke-linejoin="round"/>
<circle cx="231.5" cy="466.9" r="1.55" fill="#fff" stroke="#24417f" stroke-width="0.95"/>
<circle cx="234.2" cy="467.3" r="1.55" fill="#fff" stroke="#24417f" stroke-width="0.95"/>
<circle cx="245.1" cy="435" r="1.55" fill="#fff" stroke="#24417f" stroke-width="0.95"/>
<circle cx="255.5" cy="463.8" r="1.55" fill="#fff" stroke="#24417f" stroke-width="0.95"/>
<circle cx="266.1" cy="462" r="1.55" fill="#fff" stroke="#24417f" stroke-width="0.95"/>
<circle cx="276.9" cy="465.7" r="1.55" fill="#fff" stroke="#24417f" stroke-width="0.95"/>
<circle cx="283.8" cy="467.3" r="1.55" fill="#fff" stroke="#24417f" stroke-width="0.95"/>
<circle cx="302.3" cy="467.3" r="1.55" fill="#fff" stroke="#24417f" stroke-width="0.95"/>
<circle cx="320.3" cy="467.3" r="1.55" fill="#fff" stroke="#24417f" stroke-width="0.95"/>
<circle cx="334.6" cy="465.5" r="1.55" fill="#fff" stroke="#24417f" stroke-width="0.95"/>
<circle cx="234.2" cy="468.5" r="1.65" fill="#a3123a"/>
<circle cx="245.1" cy="428.8" r="1.65" fill="#a3123a"/>
<circle cx="255.5" cy="441.2" r="1.65" fill="#a3123a"/>
<circle cx="266.1" cy="445.9" r="1.65" fill="#a3123a"/>
<circle cx="276.9" cy="452.3" r="1.65" fill="#a3123a"/>
<circle cx="283.8" cy="412.6" r="1.65" fill="#a3123a"/>
<text x="257.55" y="456.03" font-size="7.8" text-anchor="middle" textLength="9.89" lengthAdjust="spacingAndGlyphs">***</text>
<text x="265.95" y="461.13" font-size="7.8" text-anchor="middle" textLength="5.81" lengthAdjust="spacingAndGlyphs">**</text>
<text x="277.15" y="465.73" font-size="7.8" text-anchor="middle" textLength="9.89" lengthAdjust="spacingAndGlyphs">***</text>
<text x="295.4" y="460.8" font-size="7.2" style="stroke-width:0.2px" textLength="37.4" lengthAdjust="spacing">pvl: 6.7e-6</text>
</g>
<g id="pL">
<text x="351.8" y="395.45" font-size="12" fill="#000" font-weight="bold" style="stroke:none">L</text>
<line x1="399.7" y1="468.5" x2="402.4" y2="468.5" stroke="#262626" stroke-width="1"/>
<text x="396.6" y="471.55" font-size="8.6" text-anchor="end" textLength="4.69" lengthAdjust="spacingAndGlyphs">0</text>
<line x1="399.7" y1="457.03" x2="402.4" y2="457.03" stroke="#262626" stroke-width="1"/>
<text x="396.6" y="460.09" font-size="8.6" text-anchor="end" textLength="18.75" lengthAdjust="spacingAndGlyphs">3000</text>
<line x1="399.7" y1="445.57" x2="402.4" y2="445.57" stroke="#262626" stroke-width="1"/>
<text x="396.6" y="448.62" font-size="8.6" text-anchor="end" textLength="18.75" lengthAdjust="spacingAndGlyphs">6000</text>
<line x1="399.7" y1="434.1" x2="402.4" y2="434.1" stroke="#262626" stroke-width="1"/>
<text x="396.6" y="437.15" font-size="8.6" text-anchor="end" textLength="18.75" lengthAdjust="spacingAndGlyphs">9000</text>
<line x1="399.7" y1="422.63" x2="402.4" y2="422.63" stroke="#262626" stroke-width="1"/>
<text x="396.6" y="425.69" font-size="8.6" text-anchor="end" textLength="23.43" lengthAdjust="spacingAndGlyphs">12000</text>
<line x1="399.7" y1="411.17" x2="402.4" y2="411.17" stroke="#262626" stroke-width="1"/>
<text x="396.6" y="414.22" font-size="8.6" text-anchor="end" textLength="23.43" lengthAdjust="spacingAndGlyphs">15000</text>
<line x1="399.7" y1="399.7" x2="402.4" y2="399.7" stroke="#262626" stroke-width="1"/>
<text x="396.6" y="402.75" font-size="8.6" text-anchor="end" textLength="23.43" lengthAdjust="spacingAndGlyphs">18000</text>
<line x1="402.4" y1="397.3" x2="402.4" y2="469" stroke="#262626" stroke-width="1.2"/>
<line x1="402.4" y1="468.5" x2="507.5" y2="468.5" stroke="#262626" stroke-width="1.2"/>
<line x1="496.5" y1="465.5" x2="496.5" y2="471.8" stroke="#262626" stroke-width="1"/>
<line x1="402.4" y1="468.5" x2="402.4" y2="471.8" stroke="#262626" stroke-width="1"/>
<line x1="413.5" y1="468.5" x2="413.5" y2="471.8" stroke="#262626" stroke-width="1"/>
<line x1="424.5" y1="468.5" x2="424.5" y2="471.8" stroke="#262626" stroke-width="1"/>
<line x1="435.4" y1="468.5" x2="435.4" y2="471.8" stroke="#262626" stroke-width="1"/>
<line x1="446.5" y1="468.5" x2="446.5" y2="471.8" stroke="#262626" stroke-width="1"/>
<line x1="455" y1="468.5" x2="455" y2="471.8" stroke="#262626" stroke-width="1"/>
<line x1="472.8" y1="468.5" x2="472.8" y2="471.8" stroke="#262626" stroke-width="1"/>
<line x1="490.3" y1="468.5" x2="490.3" y2="471.8" stroke="#262626" stroke-width="1"/>
<line x1="505.8" y1="468.5" x2="505.8" y2="471.8" stroke="#262626" stroke-width="1"/>
<text x="402.4" y="482" font-size="8.6" text-anchor="middle" textLength="4.69" lengthAdjust="spacingAndGlyphs">0</text>
<text x="413.5" y="482" font-size="8.6" text-anchor="middle" textLength="4.69" lengthAdjust="spacingAndGlyphs">2</text>
<text x="424.5" y="482" font-size="8.6" text-anchor="middle" textLength="4.69" lengthAdjust="spacingAndGlyphs">4</text>
<text x="435.4" y="482" font-size="8.6" text-anchor="middle" textLength="4.69" lengthAdjust="spacingAndGlyphs">6</text>
<text x="446.5" y="482" font-size="8.6" text-anchor="middle" textLength="4.69" lengthAdjust="spacingAndGlyphs">8</text>
<text x="456.3" y="482" font-size="8.6" text-anchor="middle" textLength="9.37" lengthAdjust="spacingAndGlyphs">24</text>
<text x="472.8" y="482" font-size="8.6" text-anchor="middle" textLength="9.37" lengthAdjust="spacingAndGlyphs">48</text>
<text x="490.3" y="482" font-size="8.6" text-anchor="middle" textLength="9.37" lengthAdjust="spacingAndGlyphs">72</text>
<text x="505.8" y="482" font-size="8.6" text-anchor="middle" textLength="14.06" lengthAdjust="spacingAndGlyphs">168</text>
<text x="454.5" y="495.4" font-size="9.8" text-anchor="middle" textLength="34.8" lengthAdjust="spacingAndGlyphs" style="stroke-width:0.3px">Time (hrs)</text>
<text x="367.87" y="432.4" font-size="9.9" text-anchor="middle" textLength="51.9" lengthAdjust="spacingAndGlyphs" transform="rotate(-90 367.87 432.4)" style="stroke-width:0.3px">FXa-AT (AU/mL)</text>
<line x1="413.5" y1="430.4" x2="413.5" y2="443.5" stroke="#24417f" stroke-width="1"/>
<line x1="411.7" y1="430.4" x2="415.3" y2="430.4" stroke="#24417f" stroke-width="1"/>
<line x1="411.7" y1="443.5" x2="415.3" y2="443.5" stroke="#24417f" stroke-width="1"/>
<line x1="424.5" y1="448.8" x2="424.5" y2="456.9" stroke="#24417f" stroke-width="1"/>
<line x1="422.7" y1="448.8" x2="426.3" y2="448.8" stroke="#24417f" stroke-width="1"/>
<line x1="422.7" y1="456.9" x2="426.3" y2="456.9" stroke="#24417f" stroke-width="1"/>
<line x1="413.5" y1="403.8" x2="413.5" y2="433.8" stroke="#b31c47" stroke-width="1"/>
<line x1="411.7" y1="403.8" x2="415.3" y2="403.8" stroke="#b31c47" stroke-width="1"/>
<line x1="411.7" y1="433.8" x2="415.3" y2="433.8" stroke="#b31c47" stroke-width="1"/>
<line x1="424.5" y1="426.5" x2="424.5" y2="439.6" stroke="#b31c47" stroke-width="1"/>
<line x1="422.7" y1="426.5" x2="426.3" y2="426.5" stroke="#b31c47" stroke-width="1"/>
<line x1="422.7" y1="439.6" x2="426.3" y2="439.6" stroke="#b31c47" stroke-width="1"/>
<line x1="435.4" y1="420" x2="435.4" y2="436.2" stroke="#b31c47" stroke-width="1"/>
<line x1="433.6" y1="420" x2="437.2" y2="420" stroke="#b31c47" stroke-width="1"/>
<line x1="433.6" y1="436.2" x2="437.2" y2="436.2" stroke="#b31c47" stroke-width="1"/>
<line x1="446.5" y1="435.7" x2="446.5" y2="444.2" stroke="#b31c47" stroke-width="1"/>
<line x1="444.7" y1="435.7" x2="448.3" y2="435.7" stroke="#b31c47" stroke-width="1"/>
<line x1="444.7" y1="444.2" x2="448.3" y2="444.2" stroke="#b31c47" stroke-width="1"/>
<line x1="455" y1="428.1" x2="455" y2="449.5" stroke="#b31c47" stroke-width="1"/>
<line x1="453.2" y1="428.1" x2="456.8" y2="428.1" stroke="#b31c47" stroke-width="1"/>
<line x1="453.2" y1="449.5" x2="456.8" y2="449.5" stroke="#b31c47" stroke-width="1"/>
<polyline points="402.4,468.5 413.5,433.4 424.5,452.3 435.4,458.1 446.5,465.5 455,468.5 472.8,468.5 490.3,468.5 505.8,468.5" fill="none" stroke="#24417f" stroke-width="1.1" stroke-linejoin="round"/>
<polyline points="402.4,468.5 413.5,421.2 424.5,432.7 435.4,428.1 446.5,439.6 455,438.5" fill="none" stroke="#b31c47" stroke-width="1.2" stroke-linejoin="round"/>
<circle cx="402.4" cy="468.5" r="1.55" fill="#fff" stroke="#24417f" stroke-width="0.95"/>
<circle cx="413.5" cy="433.4" r="1.55" fill="#fff" stroke="#24417f" stroke-width="0.95"/>
<circle cx="424.5" cy="452.3" r="1.55" fill="#fff" stroke="#24417f" stroke-width="0.95"/>
<circle cx="435.4" cy="458.1" r="1.55" fill="#fff" stroke="#24417f" stroke-width="0.95"/>
<circle cx="446.5" cy="465.5" r="1.55" fill="#fff" stroke="#24417f" stroke-width="0.95"/>
<circle cx="455" cy="468.5" r="1.55" fill="#fff" stroke="#24417f" stroke-width="0.95"/>
<circle cx="472.8" cy="468.5" r="1.55" fill="#fff" stroke="#24417f" stroke-width="0.95"/>
<circle cx="490.3" cy="468.5" r="1.55" fill="#fff" stroke="#24417f" stroke-width="0.95"/>
<circle cx="505.8" cy="468.5" r="1.55" fill="#fff" stroke="#24417f" stroke-width="0.95"/>
<circle cx="402.4" cy="468.5" r="1.65" fill="#a3123a"/>
<circle cx="413.5" cy="421.2" r="1.65" fill="#a3123a"/>
<circle cx="424.5" cy="432.7" r="1.65" fill="#a3123a"/>
<circle cx="435.4" cy="428.1" r="1.65" fill="#a3123a"/>
<circle cx="446.5" cy="439.6" r="1.65" fill="#a3123a"/>
<circle cx="455" cy="438.5" r="1.65" fill="#a3123a"/>
<text x="424.4" y="448.63" font-size="7.8" text-anchor="middle" textLength="5.92" lengthAdjust="spacingAndGlyphs">**</text>
<text x="435.65" y="456.03" font-size="7.8" text-anchor="middle" textLength="9.89" lengthAdjust="spacingAndGlyphs">***</text>
<text x="446.65" y="462.93" font-size="7.8" text-anchor="middle" textLength="9.89" lengthAdjust="spacingAndGlyphs">***</text>
<text x="467.7" y="460.8" font-size="7.2" style="stroke-width:0.2px" textLength="39.7" lengthAdjust="spacing">pvl: 4.5e-17</text>
</g>
<g id="pM">
<text x="7.5" y="518.05" font-size="12" fill="#000" font-weight="bold" style="stroke:none">M</text>
<line x1="54.2" y1="591" x2="56.9" y2="591" stroke="#262626" stroke-width="1"/>
<text x="50.6" y="594.05" font-size="8.6" text-anchor="end" textLength="4.69" lengthAdjust="spacingAndGlyphs">0</text>
<line x1="54.2" y1="577.3" x2="56.9" y2="577.3" stroke="#262626" stroke-width="1"/>
<text x="50.6" y="580.35" font-size="8.6" text-anchor="end" textLength="14.06" lengthAdjust="spacingAndGlyphs">500</text>
<line x1="54.2" y1="563.6" x2="56.9" y2="563.6" stroke="#262626" stroke-width="1"/>
<text x="50.6" y="566.65" font-size="8.6" text-anchor="end" textLength="18.75" lengthAdjust="spacingAndGlyphs">1000</text>
<line x1="54.2" y1="549.9" x2="56.9" y2="549.9" stroke="#262626" stroke-width="1"/>
<text x="50.6" y="552.95" font-size="8.6" text-anchor="end" textLength="18.75" lengthAdjust="spacingAndGlyphs">1500</text>
<line x1="54.2" y1="536.2" x2="56.9" y2="536.2" stroke="#262626" stroke-width="1"/>
<text x="50.6" y="539.25" font-size="8.6" text-anchor="end" textLength="18.75" lengthAdjust="spacingAndGlyphs">2000</text>
<line x1="54.2" y1="522.5" x2="56.9" y2="522.5" stroke="#262626" stroke-width="1"/>
<text x="50.6" y="525.55" font-size="8.6" text-anchor="end" textLength="18.75" lengthAdjust="spacingAndGlyphs">2500</text>
<line x1="56.9" y1="520.1" x2="56.9" y2="591.5" stroke="#262626" stroke-width="1.2"/>
<line x1="56.9" y1="591" x2="101.9" y2="591" stroke="#262626" stroke-width="1.2"/>
<line x1="110" y1="591" x2="145.1" y2="591" stroke="#262626" stroke-width="1.2"/>
<line x1="150.9" y1="591" x2="162" y2="591" stroke="#262626" stroke-width="1.2"/>
<line x1="101.9" y1="588" x2="101.9" y2="594.3" stroke="#262626" stroke-width="1"/>
<line x1="110" y1="588" x2="110" y2="594.3" stroke="#262626" stroke-width="1"/>
<line x1="150.9" y1="588" x2="150.9" y2="594.3" stroke="#262626" stroke-width="1"/>
<line x1="59.3" y1="591" x2="59.3" y2="594.3" stroke="#262626" stroke-width="1"/>
<line x1="70.1" y1="591" x2="70.1" y2="594.3" stroke="#262626" stroke-width="1"/>
<line x1="80.5" y1="591" x2="80.5" y2="594.3" stroke="#262626" stroke-width="1"/>
<line x1="91.1" y1="591" x2="91.1" y2="594.3" stroke="#262626" stroke-width="1"/>
<line x1="101.9" y1="591" x2="101.9" y2="594.3" stroke="#262626" stroke-width="1"/>
<line x1="110" y1="591" x2="110" y2="594.3" stroke="#262626" stroke-width="1"/>
<line x1="127.8" y1="591" x2="127.8" y2="594.3" stroke="#262626" stroke-width="1"/>
<line x1="145.1" y1="591" x2="145.1" y2="594.3" stroke="#262626" stroke-width="1"/>
<line x1="160.3" y1="591" x2="160.3" y2="594.3" stroke="#262626" stroke-width="1"/>
<text x="59.3" y="603.95" font-size="8.6" text-anchor="middle" textLength="4.69" lengthAdjust="spacingAndGlyphs">0</text>
<text x="70.1" y="603.95" font-size="8.6" text-anchor="middle" textLength="4.69" lengthAdjust="spacingAndGlyphs">2</text>
<text x="80.5" y="603.95" font-size="8.6" text-anchor="middle" textLength="4.69" lengthAdjust="spacingAndGlyphs">4</text>
<text x="91.1" y="603.95" font-size="8.6" text-anchor="middle" textLength="4.69" lengthAdjust="spacingAndGlyphs">6</text>
<text x="101.9" y="603.95" font-size="8.6" text-anchor="middle" textLength="4.69" lengthAdjust="spacingAndGlyphs">8</text>
<text x="110" y="603.95" font-size="8.6" text-anchor="middle" textLength="9.37" lengthAdjust="spacingAndGlyphs">24</text>
<text x="127.8" y="603.95" font-size="8.6" text-anchor="middle" textLength="9.37" lengthAdjust="spacingAndGlyphs">48</text>
<text x="145.1" y="603.95" font-size="8.6" text-anchor="middle" textLength="9.37" lengthAdjust="spacingAndGlyphs">72</text>
<text x="160.3" y="603.95" font-size="8.6" text-anchor="middle" textLength="14.06" lengthAdjust="spacingAndGlyphs">168</text>
<text x="110" y="618.2" font-size="9.8" text-anchor="middle" textLength="34.8" lengthAdjust="spacingAndGlyphs" style="stroke-width:0.3px">Time (hrs)</text>
<text x="26.17" y="555.3" font-size="9.9" text-anchor="middle" textLength="39.6" lengthAdjust="spacingAndGlyphs" transform="rotate(-90 26.17 555.3)" style="stroke-width:0.3px">TAT (ng/ml)</text>
<line x1="70.1" y1="576.8" x2="70.1" y2="580.8" stroke="#24417f" stroke-width="1"/>
<line x1="68.3" y1="576.8" x2="71.9" y2="576.8" stroke="#24417f" stroke-width="1"/>
<line x1="68.3" y1="580.8" x2="71.9" y2="580.8" stroke="#24417f" stroke-width="1"/>
<line x1="80.5" y1="578.9" x2="80.5" y2="583.5" stroke="#24417f" stroke-width="1"/>
<line x1="78.7" y1="578.9" x2="82.3" y2="578.9" stroke="#24417f" stroke-width="1"/>
<line x1="78.7" y1="583.5" x2="82.3" y2="583.5" stroke="#24417f" stroke-width="1"/>
<line x1="70.1" y1="544.5" x2="70.1" y2="556.5" stroke="#b31c47" stroke-width="1"/>
<line x1="68.3" y1="544.5" x2="71.9" y2="544.5" stroke="#b31c47" stroke-width="1"/>
<line x1="68.3" y1="556.5" x2="71.9" y2="556.5" stroke="#b31c47" stroke-width="1"/>
<line x1="80.5" y1="534.6" x2="80.5" y2="550.8" stroke="#b31c47" stroke-width="1"/>
<line x1="78.7" y1="534.6" x2="82.3" y2="534.6" stroke="#b31c47" stroke-width="1"/>
<line x1="78.7" y1="550.8" x2="82.3" y2="550.8" stroke="#b31c47" stroke-width="1"/>
<line x1="91.1" y1="537.4" x2="91.1" y2="547.8" stroke="#b31c47" stroke-width="1"/>
<line x1="89.3" y1="537.4" x2="92.9" y2="537.4" stroke="#b31c47" stroke-width="1"/>
<line x1="89.3" y1="547.8" x2="92.9" y2="547.8" stroke="#b31c47" stroke-width="1"/>
<line x1="101.9" y1="534.6" x2="101.9" y2="550.1" stroke="#b31c47" stroke-width="1"/>
<line x1="100.1" y1="534.6" x2="103.7" y2="534.6" stroke="#b31c47" stroke-width="1"/>
<line x1="100.1" y1="550.1" x2="103.7" y2="550.1" stroke="#b31c47" stroke-width="1"/>
<line x1="110" y1="554.7" x2="110" y2="581.9" stroke="#b31c47" stroke-width="1"/>
<line x1="108.2" y1="554.7" x2="111.8" y2="554.7" stroke="#b31c47" stroke-width="1"/>
<line x1="108.2" y1="581.9" x2="111.8" y2="581.9" stroke="#b31c47" stroke-width="1"/>
<polyline points="56.9,591 59.3,591 70.1,578.9 80.5,580.8 91.1,583.8 101.9,587.7 110,591 127.8,591 145.1,591 160.3,589.5" fill="none" stroke="#24417f" stroke-width="1.1" stroke-linejoin="round"/>
<polyline points="59.3,591 70.1,550.8 80.5,542.7 91.1,542 101.9,542.2 110,568.5" fill="none" stroke="#b31c47" stroke-width="1.2" stroke-linejoin="round"/>
<circle cx="56.9" cy="591" r="1.6" fill="#24417f"/>
<circle cx="59.3" cy="591" r="1.6" fill="#24417f"/>
<circle cx="70.1" cy="578.9" r="1.6" fill="#24417f"/>
<circle cx="80.5" cy="580.8" r="1.6" fill="#24417f"/>
<circle cx="91.1" cy="583.8" r="1.6" fill="#24417f"/>
<circle cx="101.9" cy="587.7" r="1.6" fill="#24417f"/>
<circle cx="110" cy="591" r="1.6" fill="#24417f"/>
<circle cx="127.8" cy="591" r="1.6" fill="#24417f"/>
<circle cx="145.1" cy="591" r="1.6" fill="#24417f"/>
<circle cx="160.3" cy="589.5" r="1.55" fill="#fff" stroke="#24417f" stroke-width="0.95"/>
<circle cx="59.3" cy="591" r="1.65" fill="#a3123a"/>
<circle cx="70.1" cy="550.8" r="1.65" fill="#a3123a"/>
<circle cx="80.5" cy="542.7" r="1.65" fill="#a3123a"/>
<circle cx="91.1" cy="542" r="1.65" fill="#a3123a"/>
<circle cx="101.9" cy="542.2" r="1.65" fill="#a3123a"/>
<circle cx="110" cy="568.5" r="1.65" fill="#a3123a"/>
<text x="80.6" y="579.23" font-size="7.8" text-anchor="middle" textLength="10.61" lengthAdjust="spacingAndGlyphs">***</text>
<text x="91.2" y="582.23" font-size="7.8" text-anchor="middle" textLength="10.2" lengthAdjust="spacingAndGlyphs">***</text>
<text x="101.65" y="587.23" font-size="7.8" text-anchor="middle" textLength="9.89" lengthAdjust="spacingAndGlyphs">***</text>
<text x="121.5" y="584.7" font-size="7.2" style="stroke-width:0.2px" textLength="37" lengthAdjust="spacing">pvl: 3.6e-6</text>
<text x="74.8" y="568.1" font-size="7.5" text-anchor="middle" textLength="13.8" lengthAdjust="spacingAndGlyphs" fill="#3a3a3a" transform="rotate(-90 74.8 568.1)" style="stroke:none">0.07</text>
</g>
<g id="pN">
<text x="176.8" y="518.05" font-size="12" fill="#000" font-weight="bold" style="stroke:none">N</text>
<line x1="228.8" y1="591" x2="231.5" y2="591" stroke="#262626" stroke-width="1"/>
<text x="225.4" y="594.05" font-size="8.6" text-anchor="end" textLength="4.69" lengthAdjust="spacingAndGlyphs">0</text>
<line x1="228.8" y1="577.3" x2="231.5" y2="577.3" stroke="#262626" stroke-width="1"/>
<text x="225.4" y="580.35" font-size="8.6" text-anchor="end" textLength="9.37" lengthAdjust="spacingAndGlyphs">50</text>
<line x1="228.8" y1="563.6" x2="231.5" y2="563.6" stroke="#262626" stroke-width="1"/>
<text x="225.4" y="566.65" font-size="8.6" text-anchor="end" textLength="14.06" lengthAdjust="spacingAndGlyphs">100</text>
<line x1="228.8" y1="549.9" x2="231.5" y2="549.9" stroke="#262626" stroke-width="1"/>
<text x="225.4" y="552.95" font-size="8.6" text-anchor="end" textLength="14.06" lengthAdjust="spacingAndGlyphs">150</text>
<line x1="228.8" y1="536.2" x2="231.5" y2="536.2" stroke="#262626" stroke-width="1"/>
<text x="225.4" y="539.25" font-size="8.6" text-anchor="end" textLength="14.06" lengthAdjust="spacingAndGlyphs">200</text>
<line x1="228.8" y1="522.5" x2="231.5" y2="522.5" stroke="#262626" stroke-width="1"/>
<text x="225.4" y="525.55" font-size="8.6" text-anchor="end" textLength="14.06" lengthAdjust="spacingAndGlyphs">250</text>
<line x1="231.5" y1="520.1" x2="231.5" y2="591.5" stroke="#262626" stroke-width="1.2"/>
<line x1="231.5" y1="591" x2="276.9" y2="591" stroke="#262626" stroke-width="1.2"/>
<line x1="282.7" y1="591" x2="319.2" y2="591" stroke="#262626" stroke-width="1.2"/>
<line x1="325.4" y1="591" x2="336.5" y2="591" stroke="#262626" stroke-width="1.2"/>
<line x1="325.4" y1="588" x2="325.4" y2="594.3" stroke="#262626" stroke-width="1"/>
<line x1="231.5" y1="591" x2="231.5" y2="594.3" stroke="#262626" stroke-width="1"/>
<line x1="243" y1="591" x2="243" y2="594.3" stroke="#262626" stroke-width="1"/>
<line x1="253.8" y1="591" x2="253.8" y2="594.3" stroke="#262626" stroke-width="1"/>
<line x1="265.4" y1="591" x2="265.4" y2="594.3" stroke="#262626" stroke-width="1"/>
<line x1="276.9" y1="591" x2="276.9" y2="594.3" stroke="#262626" stroke-width="1"/>
<line x1="282.7" y1="591" x2="282.7" y2="594.3" stroke="#262626" stroke-width="1"/>
<line x1="300.7" y1="591" x2="300.7" y2="594.3" stroke="#262626" stroke-width="1"/>
<line x1="319.2" y1="591" x2="319.2" y2="594.3" stroke="#262626" stroke-width="1"/>
<line x1="335" y1="591" x2="335" y2="594.3" stroke="#262626" stroke-width="1"/>
<text x="231.5" y="603.95" font-size="8.6" text-anchor="middle" textLength="4.69" lengthAdjust="spacingAndGlyphs">0</text>
<text x="243" y="603.95" font-size="8.6" text-anchor="middle" textLength="4.69" lengthAdjust="spacingAndGlyphs">2</text>
<text x="253.8" y="603.95" font-size="8.6" text-anchor="middle" textLength="4.69" lengthAdjust="spacingAndGlyphs">4</text>
<text x="265.4" y="603.95" font-size="8.6" text-anchor="middle" textLength="4.69" lengthAdjust="spacingAndGlyphs">6</text>
<text x="276.9" y="603.95" font-size="8.6" text-anchor="middle" textLength="4.69" lengthAdjust="spacingAndGlyphs">8</text>
<text x="285.5" y="603.95" font-size="8.6" text-anchor="middle" textLength="9.37" lengthAdjust="spacingAndGlyphs">24</text>
<text x="301.2" y="603.95" font-size="8.6" text-anchor="middle" textLength="9.37" lengthAdjust="spacingAndGlyphs">48</text>
<text x="319.2" y="603.95" font-size="8.6" text-anchor="middle" textLength="9.37" lengthAdjust="spacingAndGlyphs">72</text>
<text x="335" y="603.95" font-size="8.6" text-anchor="middle" textLength="14.06" lengthAdjust="spacingAndGlyphs">168</text>
<text x="284.5" y="618.2" font-size="9.8" text-anchor="middle" textLength="34.8" lengthAdjust="spacingAndGlyphs" style="stroke-width:0.3px">Time (hrs)</text>
<text x="194.07" y="555.3" font-size="9.9" text-anchor="middle" textLength="47.4" lengthAdjust="spacingAndGlyphs" transform="rotate(-90 194.07 555.3)" style="stroke-width:0.3px">TF expression</text>
<text x="206.17" y="555" font-size="9.9" text-anchor="middle" textLength="73.7" lengthAdjust="spacingAndGlyphs" transform="rotate(-90 206.17 555)" style="stroke-width:0.3px">(fold change over T0)</text>
<line x1="243" y1="535" x2="243" y2="539" stroke="#b31c47" stroke-width="1"/>
<line x1="241.2" y1="535" x2="244.8" y2="535" stroke="#b31c47" stroke-width="1"/>
<line x1="241.2" y1="539" x2="244.8" y2="539" stroke="#b31c47" stroke-width="1"/>
<line x1="253.8" y1="567" x2="253.8" y2="570.6" stroke="#b31c47" stroke-width="1"/>
<line x1="252" y1="567" x2="255.6" y2="567" stroke="#b31c47" stroke-width="1"/>
<line x1="252" y1="570.6" x2="255.6" y2="570.6" stroke="#b31c47" stroke-width="1"/>
<polyline points="231.5,591 243,584.7 253.8,588.8 276.9,591" fill="none" stroke="#24417f" stroke-width="1.1" stroke-linejoin="round"/>
<polyline points="282.7,591 300.7,591 319.2,591" fill="none" stroke="#24417f" stroke-width="1.1" stroke-linejoin="round"/>
<polyline points="325.4,591 334.6,591" fill="none" stroke="#24417f" stroke-width="1.1" stroke-linejoin="round"/>
<polyline points="231.5,591 243,536.9 253.8,568.8 276.9,589.5" fill="none" stroke="#b31c47" stroke-width="1.2" stroke-linejoin="round"/>
<circle cx="231.5" cy="591" r="1.55" fill="#fff" stroke="#24417f" stroke-width="0.95"/>
<circle cx="243" cy="584.7" r="1.55" fill="#fff" stroke="#24417f" stroke-width="0.95"/>
<circle cx="253.8" cy="588.8" r="1.55" fill="#fff" stroke="#24417f" stroke-width="0.95"/>
<circle cx="276.9" cy="591" r="1.55" fill="#fff" stroke="#24417f" stroke-width="0.95"/>
<circle cx="282.7" cy="591" r="1.55" fill="#fff" stroke="#24417f" stroke-width="0.95"/>
<circle cx="300.7" cy="591" r="1.55" fill="#fff" stroke="#24417f" stroke-width="0.95"/>
<circle cx="319.2" cy="591" r="1.55" fill="#fff" stroke="#24417f" stroke-width="0.95"/>
<circle cx="334.6" cy="591" r="1.55" fill="#fff" stroke="#24417f" stroke-width="0.95"/>
<circle cx="231.5" cy="591" r="1.65" fill="#a3123a"/>
<circle cx="243" cy="536.9" r="1.65" fill="#a3123a"/>
<circle cx="253.8" cy="568.8" r="1.65" fill="#a3123a"/>
<circle cx="276.9" cy="589.5" r="1.65" fill="#a3123a"/>
<circle cx="282.7" cy="588.4" r="1.65" fill="#a3123a"/>
<text x="242.9" y="584.03" font-size="7.8" text-anchor="middle" textLength="10.61" lengthAdjust="spacingAndGlyphs">***</text>
<text x="254.2" y="587.23" font-size="7.8" text-anchor="middle" textLength="10.2" lengthAdjust="spacingAndGlyphs">***</text>
<text x="277.15" y="587.53" font-size="7.8" text-anchor="middle" textLength="6.63" lengthAdjust="spacingAndGlyphs">**</text>
<text x="292.6" y="583.5" font-size="7.2" style="stroke-width:0.2px" textLength="40.4" lengthAdjust="spacing">pvl: 5.4e-13</text>
</g>
</g>
<rect x="0.6" y="0.6" width="518.8" height="626.8" fill="none" stroke="#000" stroke-width="1.3"/>
</svg>
</div>
</body></html>
